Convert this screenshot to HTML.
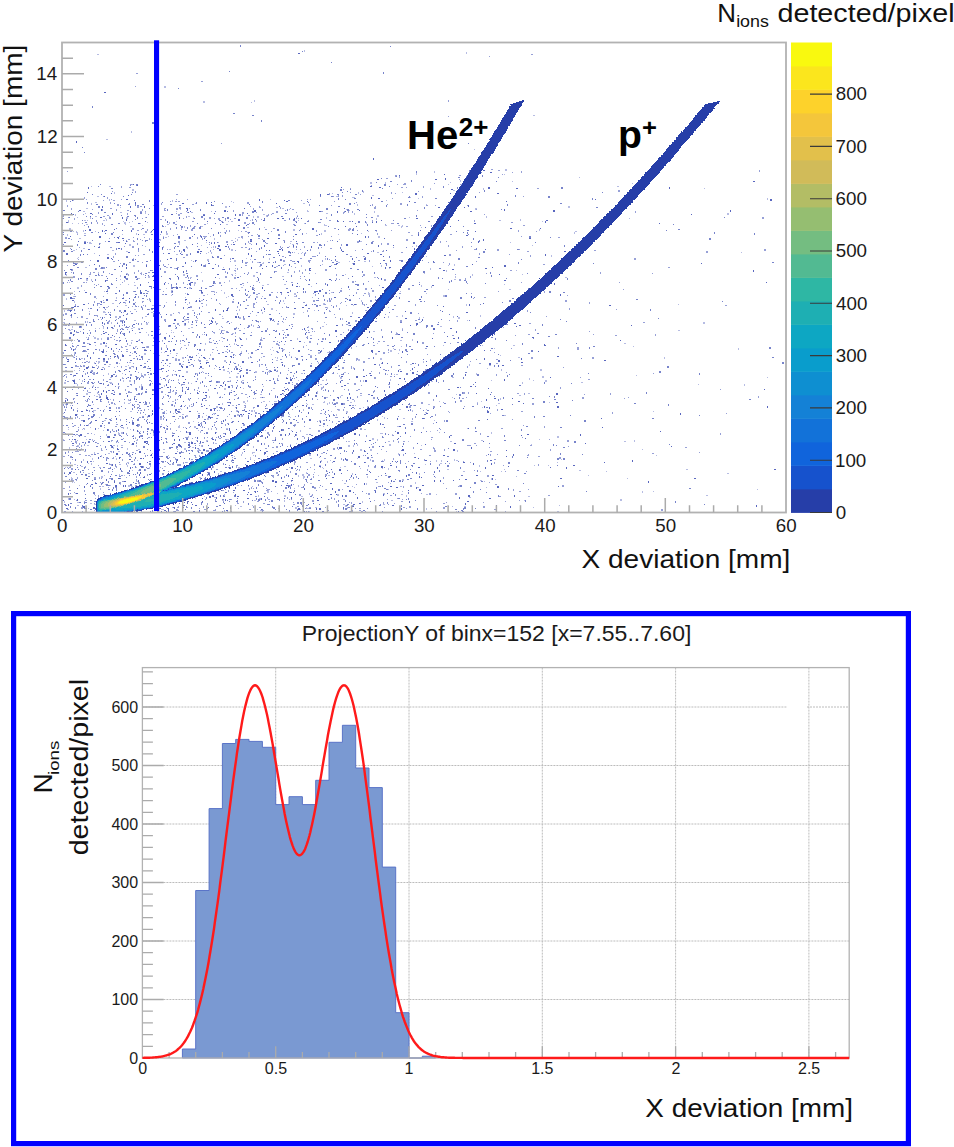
<!DOCTYPE html>
<html><head><meta charset="utf-8"><style>
html,body{margin:0;padding:0;background:#fff;}
body{width:954px;height:1147px;overflow:hidden;}
svg{display:block;}
</style></head><body>
<svg width="954" height="1147" viewBox="0 0 954 1147">
<rect width="954" height="1147" fill="#fff"/>
<g shape-rendering="crispEdges" fill="none"><path d="M251 102.5h1M474 149.5h1M504 174.5h1M579 177.5h1M512 181.5h1M450 182.5h1M632 183.5h1M132 184.5h1M448 184.5h1M91 186.5h1M704 188.5h1M402 192.5h1M332 193.5h1M354 197.5h1M410 197.5h1M418 198.5h1M270 199.5h1M66 200.5h1M386 200.5h1M66 201.5h1M231 201.5h1M233 202.5h1M426 204.5h1M153 205.5h1M120 207.5h1M87 208.5h1M289 209.5h1M346 209.5h1M307 210.5h1M349 210.5h1M176 211.5h1M211 211.5h1M277 211.5h1M85 213.5h1M77 217.5h1M145 217.5h1M296 217.5h1M409 217.5h1M105 218.5h1M629 218.5h1M87 220.5h1M250 220.5h1M298 220.5h1M123 221.5h1M132 221.5h1M176 221.5h1M228 221.5h1M542 221.5h1M129 222.5h1M147 222.5h1M154 222.5h1M72 223.5h1M78 223.5h1M140 223.5h1M207 223.5h1M304 223.5h1M142 225.5h1M165 226.5h1M195 226.5h1M264 227.5h1M421 227.5h1M181 228.5h1M238 230.5h1M73 231.5h1M95 231.5h1M368 231.5h1M376 231.5h1M306 233.5h1M361 233.5h1M122 234.5h1M338 234.5h1M163 236.5h1M168 236.5h1M210 236.5h1M235 238.5h1M151 239.5h1M339 239.5h1M127 241.5h1M327 241.5h1M206 242.5h1M218 242.5h1M510 242.5h1M91 243.5h1M100 243.5h1M290 243.5h1M297 244.5h1M201 245.5h1M532 245.5h1M145 246.5h1M289 246.5h1M412 246.5h1M211 247.5h1M76 249.5h1M213 249.5h1M248 249.5h1M62 251.5h1M208 252.5h1M294 252.5h1M302 252.5h1M319 252.5h1M741 252.5h1M94 253.5h1M206 253.5h1M298 253.5h1M301 253.5h1M426 256.5h1M78 257.5h1M77 258.5h1M133 258.5h1M246 258.5h1M250 259.5h1M191 260.5h1M349 261.5h1M205 264.5h1M322 264.5h1M331 265.5h1M448 265.5h1M372 266.5h1M223 267.5h1M100 268.5h1M235 268.5h1M389 268.5h1M516 270.5h1M235 271.5h1M141 272.5h1M201 272.5h1M235 273.5h1M315 273.5h1M424 273.5h1M345 274.5h1M522 274.5h1M235 275.5h1M89 276.5h1M219 278.5h1M120 279.5h1M69 282.5h1M134 282.5h1M120 284.5h1M128 284.5h1M504 284.5h1M243 285.5h1M311 286.5h1M253 287.5h1M166 288.5h1M448 289.5h1M84 290.5h1M221 290.5h1M74 291.5h1M104 291.5h1M400 291.5h1M368 292.5h1M107 293.5h1M185 293.5h1M426 293.5h1M207 294.5h1M171 295.5h1M250 295.5h1M73 296.5h1M228 296.5h1M262 296.5h1M185 297.5h1M226 297.5h1M312 297.5h1M96 298.5h1M156 301.5h1M166 302.5h1M189 303.5h1M284 303.5h1M324 303.5h1M187 304.5h1M678 304.5h1M346 305.5h1M353 305.5h1M78 306.5h1M370 306.5h1M99 307.5h1M142 307.5h1M388 307.5h1M187 308.5h1M135 309.5h1M276 310.5h1M314 310.5h1M89 311.5h1M105 312.5h1M123 312.5h1M303 312.5h1M256 315.5h1M222 316.5h1M423 317.5h1M142 318.5h1M158 318.5h1M467 320.5h1M158 321.5h1M188 321.5h1M117 322.5h1M148 322.5h1M188 322.5h1M231 322.5h1M283 322.5h1M324 322.5h1M326 324.5h1M69 325.5h1M348 325.5h1M95 328.5h1M99 328.5h1M244 328.5h1M219 329.5h1M171 330.5h1M146 332.5h1M171 332.5h1M173 332.5h1M396 332.5h1M135 333.5h1M166 333.5h1M214 333.5h1M202 334.5h1M395 334.5h1M93 336.5h1M86 337.5h1M155 339.5h1M74 340.5h1M138 340.5h1M262 340.5h1M71 341.5h1M162 341.5h1M222 341.5h1M304 342.5h1M180 343.5h1M201 343.5h1M377 343.5h1M95 345.5h1M158 345.5h1M279 345.5h1M306 345.5h1M443 345.5h1M482 345.5h1M136 346.5h1M230 346.5h1M356 346.5h1M401 346.5h1M633 346.5h1M154 347.5h1M166 347.5h1M216 347.5h1M272 347.5h1M323 348.5h1M393 348.5h1M494 348.5h1M270 349.5h1M284 349.5h1M273 350.5h1M118 351.5h1M161 352.5h1M164 352.5h1M212 352.5h1M88 353.5h1M132 353.5h1M170 353.5h1M198 353.5h1M248 353.5h1M398 353.5h1M234 354.5h1M271 354.5h1M235 355.5h1M500 355.5h1M72 356.5h1M291 356.5h1M261 357.5h1M275 357.5h1M295 357.5h1M198 359.5h1M233 362.5h1M242 362.5h1M62 363.5h1M98 363.5h1M119 363.5h1M62 364.5h1M262 364.5h1M128 365.5h1M131 366.5h1M240 366.5h1M114 367.5h1M214 368.5h1M487 368.5h1M74 370.5h1M150 370.5h1M158 370.5h1M90 371.5h1M202 371.5h1M401 371.5h1M93 372.5h1M122 373.5h1M237 373.5h1M337 373.5h1M387 374.5h1M394 374.5h1M636 375.5h1M122 377.5h1M143 377.5h1M767 377.5h1M74 379.5h1M79 379.5h1M298 380.5h1M491 380.5h1M533 380.5h1M195 381.5h1M229 381.5h1M109 382.5h1M160 383.5h1M191 383.5h1M698 384.5h1M74 386.5h1M263 386.5h1M85 387.5h1M97 387.5h1M98 387.5h1M105 387.5h1M89 388.5h1M243 388.5h1M135 389.5h1M194 390.5h1M114 391.5h1M88 392.5h1M256 393.5h1M165 394.5h1M456 394.5h1M94 395.5h1M247 397.5h1M452 397.5h1M169 398.5h1M255 398.5h1M110 399.5h1M269 401.5h1M274 401.5h1M324 401.5h1M439 401.5h1M481 401.5h1M130 402.5h1M377 402.5h1M477 402.5h1M549 402.5h1M128 403.5h1M129 403.5h1M245 403.5h1M306 403.5h1M65 404.5h1M93 404.5h1M307 404.5h1M70 405.5h1M355 405.5h1M496 405.5h1M363 407.5h1M482 407.5h1M77 408.5h1M180 408.5h1M207 408.5h1M253 408.5h1M104 409.5h1M181 409.5h1M426 409.5h1M140 410.5h1M166 410.5h1M219 410.5h1M331 411.5h1M653 411.5h1M93 412.5h1M63 413.5h1M166 413.5h1M173 413.5h1M177 413.5h1M213 413.5h1M289 414.5h1M119 415.5h1M151 415.5h1M206 415.5h1M382 416.5h1M99 417.5h1M290 417.5h1M111 418.5h1M231 418.5h1M161 419.5h1M434 420.5h1M193 421.5h1M161 424.5h1M294 424.5h1M166 425.5h1M323 426.5h1M90 427.5h1M185 427.5h1M98 428.5h1M68 429.5h1M82 429.5h1M130 429.5h1M211 429.5h1M103 430.5h1M198 430.5h1M265 430.5h1M291 430.5h1M140 431.5h1M180 431.5h1M430 431.5h1M439 432.5h1M153 433.5h1M382 433.5h1M70 434.5h1M94 434.5h1M392 434.5h1M75 435.5h1M288 435.5h1M135 437.5h1M86 439.5h1M227 439.5h1M539 439.5h1M75 440.5h1M111 441.5h1M408 441.5h1M167 442.5h1M296 443.5h1M290 444.5h1M338 444.5h1M421 445.5h1M77 446.5h1M81 448.5h1M185 448.5h1M642 449.5h1M102 450.5h1M256 450.5h1M454 450.5h1M111 452.5h1M152 453.5h1M414 453.5h1M168 455.5h1M253 455.5h1M656 455.5h1M90 456.5h1M115 456.5h1M234 456.5h1M196 457.5h1M319 457.5h1M334 458.5h1M357 458.5h1M561 459.5h1M137 460.5h1M254 460.5h1M330 460.5h1M382 460.5h1M93 461.5h1M187 462.5h1M219 462.5h1M557 462.5h1M88 463.5h1M251 464.5h1M425 464.5h1M534 465.5h1M548 465.5h1M65 467.5h1M136 467.5h1M289 467.5h1M322 467.5h1M340 467.5h1M114 468.5h1M323 468.5h1M360 468.5h1M382 468.5h1M504 469.5h1M132 470.5h1M138 470.5h1M140 470.5h1M480 471.5h1M501 471.5h1M606 471.5h1M314 472.5h1M286 474.5h1M104 475.5h1M124 475.5h1M318 475.5h1M588 475.5h1M516 476.5h1M140 477.5h1M435 477.5h1M303 478.5h1M627 478.5h1M254 479.5h1M263 479.5h1M495 479.5h1M342 480.5h1M73 481.5h1M484 481.5h1M72 482.5h1M74 482.5h1M148 482.5h1M390 483.5h1M105 484.5h1M120 484.5h1M139 484.5h1M79 485.5h1M110 485.5h1M136 485.5h1M248 486.5h1M252 486.5h1M352 486.5h1M319 487.5h1M354 487.5h1M486 487.5h1M294 488.5h1M388 489.5h1M757 489.5h1M402 491.5h1M653 491.5h1M75 493.5h1M277 493.5h1M436 494.5h1M95 495.5h1M204 496.5h1M74 499.5h1M329 499.5h1M284 500.5h1M284 501.5h1M235 505.5h1M252 505.5h1M559 505.5h1M452 506.5h1M70 507.5h1M172 507.5h1M315 507.5h1M316 507.5h1M533 507.5h1M88 508.5h1M238 508.5h1M278 508.5h1M163 509.5h1M257 509.5h1M182 511.5h1M230 511.5h1M303 511.5h1" stroke="rgb(182,188,227)" stroke-width="1"/>
<path d="M97 54.5h2M533 115.5h2M106 139.5h2M109 186.5h2M617 186.5h2M453 190.5h2M372 195.5h2M97 196.5h2M336 196.5h2M352 197.5h2M95 202.5h2M195 203.5h2M303 203.5h2M276 207.5h2M86 208.5h2M282 208.5h2M83 211.5h2M307 211.5h2M120 212.5h2M191 212.5h2M326 213.5h2M263 214.5h2M95 216.5h2M188 216.5h2M84 220.5h2M103 220.5h2M499 220.5h2M231 221.5h2M67 222.5h2M86 224.5h2M167 224.5h2M226 224.5h2M325 225.5h2M385 225.5h2M398 225.5h2M130 226.5h2M201 226.5h2M247 227.5h2M156 228.5h2M575 231.5h2M150 232.5h2M224 232.5h2M247 232.5h2M84 233.5h2M143 234.5h2M411 235.5h2M165 237.5h2M238 237.5h2M79 238.5h2M184 240.5h2M231 240.5h2M290 241.5h2M360 241.5h2M249 243.5h2M292 244.5h2M83 248.5h2M169 249.5h2M73 250.5h2M112 250.5h2M126 251.5h2M377 252.5h2M107 254.5h2M176 254.5h2M364 261.5h2M257 262.5h2M338 262.5h2M262 263.5h2M352 263.5h2M284 264.5h2M156 266.5h2M259 266.5h2M276 266.5h2M85 267.5h2M166 267.5h2M174 268.5h2M287 272.5h2M231 274.5h2M196 276.5h2M282 276.5h2M190 277.5h2M374 277.5h2M565 277.5h2M138 278.5h2M454 279.5h2M256 281.5h2M267 284.5h2M284 284.5h2M134 285.5h2M262 285.5h2M241 287.5h2M253 288.5h2M509 289.5h2M171 290.5h2M331 292.5h2M294 296.5h2M201 300.5h2M112 303.5h2M267 304.5h2M362 304.5h2M125 305.5h2M152 305.5h2M106 307.5h2M134 309.5h2M192 310.5h2M151 312.5h2M145 316.5h2M396 316.5h2M222 318.5h2M134 320.5h2M196 320.5h2M63 322.5h2M226 322.5h2M419 322.5h2M63 325.5h2M184 325.5h2M322 326.5h2M440 326.5h2M133 327.5h2M191 327.5h2M131 328.5h2M188 328.5h2M71 329.5h2M158 329.5h2M69 330.5h2M223 330.5h2M282 330.5h2M678 330.5h2M373 331.5h2M232 333.5h2M310 335.5h2M221 337.5h2M131 340.5h2M400 340.5h2M88 343.5h2M624 343.5h2M129 345.5h2M152 345.5h2M184 345.5h2M513 345.5h2M255 350.5h2M225 351.5h2M327 352.5h2M153 353.5h2M176 353.5h2M158 355.5h2M310 355.5h2M518 357.5h2M81 358.5h2M198 360.5h2M206 360.5h2M276 360.5h2M129 362.5h2M109 364.5h2M182 364.5h2M410 364.5h2M189 365.5h2M489 365.5h2M108 366.5h2M125 366.5h2M102 367.5h2M222 367.5h2M202 368.5h2M399 369.5h2M227 371.5h2M268 371.5h2M344 372.5h2M196 373.5h2M301 373.5h2M65 374.5h2M174 374.5h2M396 374.5h2M144 375.5h2M167 375.5h2M110 377.5h2M127 377.5h2M229 377.5h2M452 377.5h2M301 379.5h2M242 380.5h2M322 380.5h2M431 381.5h2M110 382.5h2M581 382.5h2M75 383.5h2M111 383.5h2M320 384.5h2M118 386.5h2M273 388.5h2M290 390.5h2M172 391.5h2M233 391.5h2M528 393.5h2M98 394.5h2M260 394.5h2M341 395.5h2M360 395.5h2M519 395.5h2M96 396.5h2M260 397.5h2M263 397.5h2M326 397.5h2M172 401.5h2M263 401.5h2M275 401.5h2M323 402.5h2M350 402.5h2M498 403.5h2M114 404.5h2M312 404.5h2M428 404.5h2M232 405.5h2M413 405.5h2M235 407.5h2M244 407.5h2M399 409.5h2M94 410.5h2M130 411.5h2M425 412.5h2M198 413.5h2M76 414.5h2M182 414.5h2M81 415.5h2M504 415.5h2M403 418.5h2M104 420.5h2M411 421.5h2M72 426.5h2M397 426.5h2M226 428.5h2M309 428.5h2M467 428.5h2M364 429.5h2M187 432.5h2M380 433.5h2M306 434.5h2M84 436.5h2M62 439.5h2M136 440.5h2M196 440.5h2M481 440.5h2M223 441.5h2M348 441.5h2M388 441.5h2M450 441.5h2M624 441.5h2M184 442.5h2M215 443.5h2M131 444.5h2M87 445.5h2M113 445.5h2M121 445.5h2M246 445.5h2M192 447.5h2M138 449.5h2M163 449.5h2M198 449.5h2M84 451.5h2M118 451.5h2M163 452.5h2M198 452.5h2M253 452.5h2M108 453.5h2M321 453.5h2M173 457.5h2M310 458.5h2M456 460.5h2M127 462.5h2M440 463.5h2M74 464.5h2M119 464.5h2M67 465.5h2M319 465.5h2M81 466.5h2M164 466.5h2M344 466.5h2M99 467.5h2M447 469.5h2M686 469.5h2M579 470.5h2M220 471.5h2M326 471.5h2M463 471.5h2M73 472.5h2M88 473.5h2M265 473.5h2M727 473.5h2M328 475.5h2M199 477.5h2M480 480.5h2M136 481.5h2M376 482.5h2M310 483.5h2M344 483.5h2M237 485.5h2M102 486.5h2M400 486.5h2M417 487.5h2M325 489.5h2M218 491.5h2M401 494.5h2M426 494.5h2M311 495.5h2M706 495.5h2M301 496.5h2M528 496.5h2M214 497.5h2M469 497.5h2M222 500.5h2M254 500.5h2M391 500.5h2M524 500.5h2M77 502.5h2M90 503.5h2M94 504.5h2M343 504.5h2M383 504.5h2M77 505.5h2M240 506.5h2M464 506.5h2M307 508.5h2M161 509.5h2M299 509.5h2M260 510.5h2M557 511.5h2" stroke="rgb(182,188,227)" stroke-width="1"/>
<path d="M304 51h1M466 53h1M254 101h1M131 132h1M434 172h1M416 174h1M460 181h1M385 183h1M430 189h1M483 189h1M363 192h1M114 193h1M358 193h1M767 199h1M73 200h1M109 200h1M172 201h1M91 204h1M357 205h1M180 209h1M374 212h1M145 213h1M354 214h1M75 215h1M297 216h1M109 217h1M253 217h1M486 217h1M90 218h1M193 218h1M326 218h1M376 219h1M106 220h1M520 220h1M68 221h1M169 223h1M366 223h1M125 224h1M324 225h1M402 226h1M184 227h1M401 227h1M539 230h1M83 231h1M76 232h1M77 233h1M574 233h1M136 234h1M321 234h1M67 235h1M242 238h1M214 239h1M160 240h1M237 240h1M179 244h1M416 246h1M163 247h1M213 247h1M187 248h1M181 252h1M211 253h1M551 256h1M269 259h1M325 259h1M263 263h1M454 265h1M301 266h1M381 266h1M430 269h1M446 271h1M98 273h1M66 275h1M158 275h1M472 275h1M120 276h1M157 277h1M455 277h1M157 278h1M91 280h1M124 281h1M202 281h1M229 281h1M194 285h1M421 286h1M431 287h1M214 292h1M224 293h1M116 298h1M123 298h1M66 299h1M283 301h1M361 301h1M74 302h1M125 303h1M206 305h1M466 305h1M157 307h1M327 308h1M239 310h1M261 310h1M64 311h1M179 313h1M262 313h1M352 313h1M379 315h1M402 316h1M480 316h1M388 317h1M453 317h1M419 318h1M342 319h1M87 322h1M196 322h1M258 322h1M76 323h1M111 323h1M122 323h1M175 326h1M253 326h1M72 327h1M308 327h1M103 328h1M402 329h1M148 335h1M154 337h1M153 338h1M239 338h1M261 338h1M101 339h1M209 339h1M246 339h1M297 339h1M412 340h1M131 343h1M142 343h1M205 344h1M234 344h1M188 345h1M166 346h1M76 347h1M135 347h1M161 348h1M180 349h1M738 349h1M399 350h1M241 352h1M74 353h1M155 353h1M71 355h1M210 355h1M289 355h1M73 357h1M248 358h1M277 358h1M664 358h1M68 360h1M188 360h1M430 360h1M89 362h1M423 362h1M94 363h1M318 363h1M469 365h1M133 367h1M187 367h1M353 368h1M501 370h1M269 372h1M229 373h1M108 374h1M141 374h1M476 374h1M278 376h1M339 376h1M205 378h1M529 379h1M178 380h1M326 380h1M390 380h1M82 381h1M123 381h1M230 381h1M363 381h1M242 383h1M522 383h1M77 385h1M131 385h1M141 385h1M744 385h1M93 386h1M164 386h1M92 387h1M139 387h1M208 390h1M317 392h1M97 393h1M142 393h1M317 393h1M283 394h1M99 396h1M156 397h1M209 397h1M220 397h1M340 397h1M500 399h1M128 400h1M247 401h1M354 401h1M124 403h1M329 403h1M201 404h1M222 404h1M327 404h1M66 406h1M189 406h1M303 410h1M93 411h1M254 411h1M412 411h1M214 414h1M336 415h1M147 417h1M202 417h1M281 417h1M384 418h1M377 420h1M221 423h1M88 425h1M179 426h1M123 428h1M127 428h1M423 428h1M84 429h1M208 429h1M211 429h1M165 431h1M300 431h1M200 432h1M118 433h1M172 433h1M491 433h1M106 435h1M188 437h1M63 440h1M92 440h1M228 440h1M377 440h1M634 441h1M191 442h1M282 444h1M357 445h1M531 445h1M117 446h1M136 446h1M353 446h1M253 447h1M69 448h1M113 448h1M127 449h1M457 451h1M94 453h1M242 453h1M252 453h1M398 454h1M241 455h1M101 456h1M250 458h1M92 459h1M116 459h1M83 460h1M370 460h1M384 460h1M454 460h1M321 461h1M436 461h1M441 461h1M327 462h1M91 464h1M109 464h1M127 466h1M150 466h1M479 466h1M213 467h1M320 467h1M149 468h1M388 469h1M332 472h1M306 473h1M218 474h1M352 474h1M419 474h1M119 475h1M298 476h1M367 477h1M71 478h1M72 479h1M491 479h1M415 483h1M366 484h1M181 486h1M290 486h1M298 486h1M459 486h1M100 489h1M127 490h1M268 491h1M642 492h1M309 494h1M224 495h1M258 496h1M406 496h1M98 497h1M195 498h1M68 499h1M64 502h1M362 502h1M306 508h1M347 508h1M426 509h1M206 511h1M309 512h1M456 512h1" stroke="rgb(182,188,227)" stroke-width="2"/>
<path d="M164 87h2M203 102h2M505 170h2M370 183h2M132 190h2M225 207h2M568 207h2M475 209h2M727 214h2M266 216h2M377 216h2M257 217h2M126 218h2M124 223h2M69 229h2M293 230h2M324 231h2M166 234h2M204 237h2M378 237h2M89 243h2M129 245h2M231 250h2M207 260h2M234 261h2M133 266h2M126 274h2M183 275h2M253 276h2M148 277h2M86 280h2M194 283h2M77 288h2M189 288h2M294 294h2M368 294h2M443 296h2M520 296h2M256 297h2M149 300h2M323 304h2M271 309h2M103 312h2M156 313h2M293 314h2M170 315h2M115 317h2M239 318h2M458 318h2M184 320h2M703 323h2M146 324h2M277 324h2M138 329h2M94 338h2M97 339h2M100 344h2M105 346h2M146 347h2M282 350h2M390 351h2M318 353h2M144 354h2M375 354h2M117 357h2M182 358h2M175 359h2M380 359h2M358 360h2M224 361h2M98 362h2M223 370h2M540 370h2M65 371h2M186 372h2M255 372h2M236 377h2M542 377h2M340 378h2M129 381h2M545 381h2M64 383h2M73 387h2M321 388h2M224 389h2M86 394h2M243 402h2M216 407h2M367 407h2M158 408h2M338 410h2M236 411h2M251 411h2M346 412h2M162 413h2M237 415h2M186 416h2M241 416h2M160 419h2M207 419h2M319 421h2M178 427h2M194 427h2M121 433h2M118 434h2M153 435h2M557 437h2M372 439h2M206 441h2M389 445h2M77 446h2M201 446h2M348 446h2M184 449h2M360 450h2M370 450h2M197 451h2M309 455h2M238 468h2M302 475h2M101 477h2M303 477h2M402 480h2M189 483h2M128 486h2M131 487h2M267 492h2M383 494h2M337 495h2M284 496h2M259 499h2M620 500h2M345 506h2M295 508h2" stroke="rgb(182,188,227)" stroke-width="2"/>
<path d="M489 56.5h1M135 86.5h1M448 116.5h1M221 143.5h1M67 171.5h1M512 172.5h1M502 174.5h1M459 179.5h1M434 183.5h1M397 184.5h1M403 184.5h1M371 185.5h1M406 187.5h1M350 188.5h1M343 189.5h1M112 191.5h1M418 191.5h1M350 192.5h1M479 192.5h1M395 193.5h1M360 194.5h1M523 196.5h1M392 198.5h1M86 199.5h1M111 199.5h1M121 199.5h1M176 199.5h1M187 199.5h1M307 199.5h1M310 199.5h1M103 200.5h1M301 200.5h1M170 201.5h1M334 201.5h1M356 202.5h1M387 204.5h1M331 205.5h1M435 205.5h1M250 206.5h1M259 206.5h1M375 206.5h1M165 208.5h1M189 208.5h1M290 208.5h1M92 209.5h1M476 209.5h1M285 210.5h1M417 210.5h1M145 211.5h1M186 211.5h1M187 212.5h1M256 212.5h1M296 212.5h1M176 213.5h1M83 214.5h1M148 214.5h1M271 214.5h1M484 214.5h1M68 217.5h1M110 218.5h1M142 218.5h1M183 218.5h1M214 218.5h1M296 218.5h1M298 218.5h1M417 218.5h1M230 219.5h1M261 219.5h1M223 222.5h1M82 223.5h1M249 223.5h1M391 223.5h1M254 224.5h1M385 224.5h1M84 225.5h1M104 225.5h1M420 225.5h1M406 226.5h1M407 226.5h1M88 227.5h1M224 228.5h1M141 229.5h1M181 229.5h1M357 230.5h1M391 230.5h1M104 231.5h1M241 231.5h1M271 231.5h1M536 231.5h1M220 232.5h1M208 233.5h1M77 234.5h1M160 234.5h1M177 234.5h1M257 234.5h1M173 235.5h1M119 236.5h1M248 236.5h1M331 236.5h1M521 236.5h1M133 237.5h1M144 237.5h1M109 238.5h1M71 239.5h1M140 239.5h1M159 239.5h1M262 239.5h1M133 240.5h1M142 240.5h1M330 240.5h1M105 241.5h1M158 241.5h1M235 241.5h1M446 241.5h1M87 242.5h1M211 242.5h1M317 242.5h1M209 244.5h1M231 244.5h1M251 244.5h1M142 245.5h1M99 246.5h1M124 246.5h1M155 246.5h1M218 246.5h1M304 246.5h1M471 246.5h1M79 247.5h1M132 247.5h1M207 247.5h1M282 247.5h1M293 247.5h1M304 247.5h1M321 247.5h1M393 247.5h1M70 248.5h1M251 248.5h1M167 249.5h1M296 249.5h1M300 249.5h1M235 250.5h1M355 250.5h1M456 250.5h1M174 251.5h1M256 251.5h1M371 251.5h1M290 253.5h1M304 253.5h1M319 253.5h1M143 254.5h1M144 254.5h1M509 254.5h1M135 255.5h1M138 255.5h1M224 255.5h1M158 257.5h1M78 259.5h1M329 259.5h1M90 260.5h1M150 260.5h1M310 260.5h1M193 261.5h1M230 261.5h1M476 261.5h1M142 262.5h1M247 262.5h1M309 262.5h1M428 262.5h1M443 262.5h1M77 263.5h1M120 263.5h1M168 264.5h1M67 265.5h1M89 265.5h1M235 265.5h1M283 265.5h1M291 266.5h1M295 267.5h1M71 272.5h1M109 273.5h1M140 273.5h1M309 273.5h1M486 273.5h1M652 273.5h1M81 274.5h1M143 274.5h1M455 274.5h1M232 275.5h1M240 276.5h1M300 276.5h1M86 278.5h1M190 278.5h1M300 278.5h1M348 278.5h1M178 279.5h1M305 279.5h1M339 279.5h1M72 281.5h1M355 281.5h1M368 281.5h1M67 282.5h1M86 282.5h1M122 282.5h1M224 282.5h1M247 282.5h1M259 282.5h1M291 282.5h1M292 282.5h1M419 282.5h1M521 282.5h1M619 282.5h1M168 283.5h1M467 283.5h1M94 284.5h1M98 284.5h1M187 284.5h1M213 285.5h1M379 285.5h1M209 286.5h1M299 286.5h1M116 287.5h1M236 288.5h1M341 288.5h1M349 289.5h1M408 289.5h1M623 289.5h1M239 290.5h1M163 291.5h1M213 291.5h1M498 291.5h1M172 292.5h1M216 292.5h1M277 292.5h1M187 293.5h1M313 293.5h1M329 293.5h1M471 293.5h1M74 294.5h1M349 295.5h1M363 295.5h1M567 295.5h1M103 296.5h1M249 296.5h1M199 298.5h1M211 298.5h1M359 298.5h1M473 298.5h1M147 299.5h1M233 299.5h1M103 300.5h1M185 300.5h1M100 301.5h1M200 301.5h1M266 301.5h1M135 302.5h1M142 302.5h1M189 302.5h1M256 302.5h1M341 302.5h1M219 303.5h1M340 303.5h1M220 304.5h1M306 304.5h1M366 304.5h1M143 305.5h1M331 305.5h1M108 306.5h1M117 306.5h1M132 306.5h1M138 306.5h1M202 306.5h1M163 307.5h1M254 307.5h1M263 307.5h1M282 307.5h1M287 307.5h1M88 308.5h1M104 308.5h1M149 309.5h1M616 309.5h1M236 310.5h1M130 311.5h1M136 311.5h1M153 311.5h1M264 311.5h1M330 311.5h1M110 312.5h1M178 312.5h1M148 313.5h1M173 313.5h1M250 313.5h1M418 313.5h1M160 314.5h1M197 314.5h1M334 314.5h1M385 314.5h1M281 316.5h1M546 316.5h1M77 317.5h1M100 317.5h1M104 317.5h1M142 317.5h1M212 317.5h1M335 317.5h1M197 318.5h1M269 318.5h1M101 319.5h1M116 319.5h1M285 319.5h1M195 320.5h1M209 320.5h1M449 320.5h1M260 321.5h1M274 321.5h1M317 321.5h1M90 322.5h1M64 323.5h1M72 324.5h1M216 324.5h1M102 325.5h1M122 325.5h1M179 325.5h1M103 326.5h1M129 326.5h1M159 326.5h1M170 326.5h1M175 326.5h1M221 326.5h1M222 327.5h1M503 327.5h1M238 328.5h1M311 328.5h1M127 329.5h1M287 329.5h1M89 330.5h1M305 330.5h1M80 331.5h1M117 331.5h1M312 331.5h1M314 331.5h1M589 331.5h1M76 332.5h1M251 332.5h1M284 332.5h1M343 332.5h1M433 333.5h1M74 334.5h1M101 334.5h1M204 334.5h1M593 334.5h1M89 335.5h1M183 335.5h1M285 335.5h1M515 335.5h1M235 336.5h1M306 337.5h1M125 338.5h1M186 338.5h1M114 339.5h1M162 340.5h1M213 340.5h1M219 340.5h1M119 341.5h1M235 341.5h1M277 341.5h1M260 342.5h1M72 343.5h1M87 343.5h1M217 343.5h1M450 343.5h1M229 344.5h1M236 344.5h1M284 344.5h1M85 346.5h1M121 346.5h1M224 346.5h1M406 346.5h1M181 347.5h1M240 347.5h1M75 348.5h1M511 348.5h1M227 349.5h1M308 349.5h1M82 351.5h1M106 351.5h1M276 351.5h1M289 352.5h1M388 352.5h1M494 352.5h1M115 354.5h1M427 354.5h1M176 355.5h1M187 355.5h1M315 355.5h1M76 356.5h1M250 356.5h1M282 356.5h1M199 357.5h1M286 357.5h1M443 357.5h1M110 358.5h1M209 358.5h1M194 360.5h1M356 360.5h1M96 361.5h1M183 361.5h1M470 361.5h1M82 362.5h1M88 362.5h1M133 363.5h1M311 363.5h1M381 363.5h1M65 364.5h1M259 364.5h1M299 364.5h1M96 365.5h1M167 365.5h1M92 366.5h1M117 366.5h1M169 366.5h1M216 366.5h1M311 366.5h1M103 367.5h1M266 367.5h1M563 367.5h1M79 368.5h1M288 368.5h1M79 370.5h1M173 370.5h1M277 370.5h1M288 370.5h1M410 370.5h1M162 371.5h1M175 371.5h1M371 371.5h1M138 372.5h1M199 372.5h1M203 372.5h1M506 372.5h1M77 373.5h1M238 373.5h1M348 373.5h1M653 373.5h1M148 374.5h1M287 374.5h1M103 375.5h1M208 375.5h1M240 375.5h1M63 376.5h1M111 376.5h1M439 376.5h1M138 377.5h1M140 377.5h1M149 377.5h1M160 377.5h1M286 377.5h1M580 377.5h1M294 378.5h1M161 379.5h1M169 379.5h1M266 380.5h1M278 380.5h1M151 381.5h1M224 381.5h1M227 381.5h1M230 381.5h1M94 382.5h1M178 382.5h1M292 382.5h1M438 382.5h1M74 383.5h1M99 383.5h1M110 383.5h1M152 383.5h1M336 383.5h1M292 384.5h1M389 384.5h1M150 385.5h1M216 385.5h1M361 385.5h1M170 387.5h1M284 387.5h1M78 388.5h1M135 388.5h1M344 389.5h1M720 389.5h1M83 390.5h1M125 390.5h1M197 390.5h1M231 390.5h1M271 390.5h1M323 390.5h1M129 392.5h1M253 392.5h1M136 394.5h1M137 394.5h1M153 394.5h1M175 394.5h1M584 394.5h1M76 395.5h1M275 395.5h1M284 395.5h1M330 395.5h1M135 396.5h1M178 396.5h1M222 397.5h1M325 397.5h1M357 397.5h1M466 397.5h1M628 397.5h1M198 398.5h1M253 398.5h1M624 398.5h1M89 399.5h1M177 399.5h1M317 399.5h1M85 400.5h1M129 400.5h1M189 400.5h1M101 401.5h1M261 402.5h1M443 402.5h1M134 404.5h1M191 404.5h1M185 405.5h1M209 405.5h1M265 406.5h1M297 406.5h1M335 406.5h1M464 406.5h1M213 408.5h1M222 408.5h1M354 408.5h1M391 408.5h1M420 408.5h1M86 409.5h1M148 409.5h1M292 409.5h1M217 410.5h1M321 410.5h1M410 410.5h1M116 411.5h1M197 411.5h1M448 411.5h1M180 412.5h1M449 412.5h1M324 413.5h1M490 413.5h1M726 413.5h1M145 414.5h1M328 414.5h1M172 416.5h1M182 416.5h1M227 416.5h1M235 416.5h1M295 416.5h1M164 417.5h1M185 417.5h1M337 417.5h1M79 418.5h1M138 418.5h1M178 418.5h1M197 418.5h1M387 418.5h1M88 419.5h1M175 419.5h1M348 419.5h1M512 419.5h1M96 420.5h1M103 421.5h1M126 421.5h1M317 421.5h1M91 422.5h1M116 422.5h1M156 422.5h1M198 422.5h1M201 422.5h1M282 422.5h1M89 423.5h1M170 423.5h1M243 423.5h1M336 423.5h1M433 423.5h1M63 425.5h1M74 425.5h1M75 425.5h1M104 425.5h1M327 425.5h1M523 425.5h1M116 426.5h1M120 426.5h1M200 426.5h1M294 426.5h1M304 426.5h1M68 427.5h1M78 427.5h1M104 427.5h1M160 427.5h1M183 427.5h1M189 427.5h1M83 428.5h1M289 428.5h1M440 429.5h1M78 430.5h1M153 430.5h1M176 430.5h1M263 430.5h1M437 430.5h1M521 430.5h1M156 431.5h1M158 432.5h1M216 432.5h1M91 433.5h1M150 433.5h1M78 435.5h1M359 435.5h1M72 436.5h1M85 436.5h1M294 436.5h1M410 436.5h1M114 437.5h1M187 437.5h1M195 437.5h1M207 437.5h1M212 437.5h1M216 437.5h1M522 437.5h1M100 438.5h1M123 438.5h1M135 438.5h1M192 438.5h1M137 439.5h1M431 439.5h1M549 439.5h1M77 440.5h1M94 440.5h1M197 440.5h1M226 440.5h1M71 441.5h1M301 441.5h1M346 441.5h1M96 442.5h1M118 442.5h1M129 442.5h1M136 442.5h1M273 442.5h1M73 443.5h1M76 443.5h1M281 443.5h1M248 444.5h1M371 444.5h1M100 445.5h1M199 445.5h1M476 445.5h1M287 446.5h1M568 446.5h1M489 447.5h1M176 448.5h1M197 448.5h1M147 449.5h1M177 449.5h1M338 449.5h1M381 449.5h1M77 450.5h1M101 450.5h1M177 451.5h1M386 451.5h1M157 452.5h1M699 452.5h1M377 453.5h1M129 454.5h1M497 454.5h1M62 455.5h1M199 455.5h1M363 455.5h1M486 455.5h1M267 456.5h1M113 457.5h1M131 457.5h1M169 457.5h1M232 457.5h1M245 458.5h1M72 459.5h1M232 459.5h1M250 459.5h1M261 459.5h1M192 461.5h1M383 461.5h1M408 461.5h1M430 461.5h1M332 462.5h1M470 462.5h1M128 463.5h1M134 463.5h1M405 463.5h1M449 463.5h1M77 465.5h1M98 465.5h1M229 465.5h1M503 465.5h1M67 467.5h1M69 467.5h1M116 467.5h1M157 467.5h1M160 467.5h1M228 467.5h1M310 467.5h1M158 468.5h1M162 468.5h1M88 469.5h1M314 469.5h1M296 470.5h1M474 470.5h1M112 471.5h1M122 471.5h1M168 471.5h1M399 471.5h1M505 471.5h1M526 471.5h1M64 472.5h1M83 472.5h1M332 472.5h1M151 473.5h1M76 474.5h1M313 474.5h1M326 474.5h1M433 474.5h1M154 475.5h1M378 476.5h1M126 477.5h1M155 477.5h1M273 477.5h1M350 477.5h1M101 478.5h1M205 478.5h1M291 481.5h1M65 482.5h1M95 482.5h1M100 482.5h1M307 482.5h1M388 482.5h1M489 482.5h1M443 483.5h1M86 484.5h1M293 484.5h1M356 484.5h1M90 485.5h1M241 485.5h1M263 486.5h1M322 486.5h1M458 486.5h1M108 487.5h1M115 487.5h1M228 487.5h1M253 488.5h1M266 488.5h1M446 488.5h1M267 489.5h1M326 489.5h1M342 489.5h1M528 489.5h1M316 490.5h1M271 491.5h1M74 492.5h1M103 492.5h1M233 492.5h1M366 493.5h1M421 493.5h1M94 494.5h1M216 494.5h1M355 494.5h1M313 497.5h1M95 498.5h1M205 499.5h1M231 499.5h1M289 499.5h1M291 499.5h1M387 499.5h1M402 499.5h1M76 500.5h1M374 500.5h1M519 500.5h1M269 501.5h1M505 501.5h1M293 502.5h1M304 502.5h1M349 502.5h1M446 502.5h1M483 502.5h1M94 503.5h1M238 503.5h1M394 503.5h1M388 504.5h1M178 506.5h1M448 506.5h1M325 507.5h1M384 507.5h1M199 508.5h1M355 508.5h1M406 508.5h1M431 508.5h1M343 509.5h1M94 510.5h1M328 510.5h1M72 511.5h1M227 511.5h1M231 511.5h1M365 511.5h1" stroke="rgb(151,160,215)" stroke-width="1"/>
<path d="M531 54.5h2M136 73.5h2M201 81.5h2M491 169.5h2M498 170.5h2M459 175.5h2M386 178.5h2M130 184.5h2M460 184.5h2M129 187.5h2M401 187.5h2M537 188.5h2M176 194.5h2M103 196.5h2M332 196.5h2M113 200.5h2M175 201.5h2M178 201.5h2M192 204.5h2M426 205.5h2M467 205.5h2M137 206.5h2M140 206.5h2M137 207.5h2M259 207.5h2M110 208.5h2M292 209.5h2M127 210.5h2M164 210.5h2M321 211.5h2M180 213.5h2M272 213.5h2M107 215.5h2M248 215.5h2M103 216.5h2M162 216.5h2M431 216.5h2M234 218.5h2M160 219.5h2M284 220.5h2M329 220.5h2M192 221.5h2M221 221.5h2M295 221.5h2M349 221.5h2M319 222.5h2M511 222.5h2M173 223.5h2M392 223.5h2M175 224.5h2M204 224.5h2M293 224.5h2M523 225.5h2M273 228.5h2M334 228.5h2M265 229.5h2M137 230.5h2M157 230.5h2M185 230.5h2M245 231.5h2M408 232.5h2M450 234.5h2M84 235.5h2M251 235.5h2M316 235.5h2M203 236.5h2M205 236.5h2M558 237.5h2M258 238.5h2M128 239.5h2M283 240.5h2M133 241.5h2M372 241.5h2M313 242.5h2M266 243.5h2M154 246.5h2M110 247.5h2M241 247.5h2M245 247.5h2M330 248.5h2M474 249.5h2M518 249.5h2M594 250.5h2M382 251.5h2M527 251.5h2M401 252.5h2M282 256.5h2M312 256.5h2M314 256.5h2M350 256.5h2M363 256.5h2M183 257.5h2M300 258.5h2M290 260.5h2M358 260.5h2M399 260.5h2M113 261.5h2M137 261.5h2M292 261.5h2M336 261.5h2M81 262.5h2M129 262.5h2M294 263.5h2M543 264.5h2M245 265.5h2M177 267.5h2M668 267.5h2M151 270.5h2M234 270.5h2M510 270.5h2M275 271.5h2M93 272.5h2M148 272.5h2M256 272.5h2M89 274.5h2M98 275.5h2M101 275.5h2M68 277.5h2M185 277.5h2M125 278.5h2M83 282.5h2M214 283.5h2M242 283.5h2M154 286.5h2M174 287.5h2M179 287.5h2M231 288.5h2M159 289.5h2M133 291.5h2M147 291.5h2M211 291.5h2M271 292.5h2M201 293.5h2M258 293.5h2M364 293.5h2M399 293.5h2M162 294.5h2M256 294.5h2M203 295.5h2M74 296.5h2M248 297.5h2M276 297.5h2M484 297.5h2M73 298.5h2M298 298.5h2M349 299.5h2M115 300.5h2M125 300.5h2M142 301.5h2M195 301.5h2M103 302.5h2M303 302.5h2M98 303.5h2M201 303.5h2M324 304.5h2M355 304.5h2M159 305.5h2M247 305.5h2M319 305.5h2M394 305.5h2M725 305.5h2M253 307.5h2M325 307.5h2M67 310.5h2M365 310.5h2M155 312.5h2M208 312.5h2M257 312.5h2M154 313.5h2M105 314.5h2M126 314.5h2M219 314.5h2M70 315.5h2M95 315.5h2M86 318.5h2M186 319.5h2M121 320.5h2M122 320.5h2M255 320.5h2M415 320.5h2M643 322.5h2M107 323.5h2M216 323.5h2M529 323.5h2M191 324.5h2M291 324.5h2M346 324.5h2M168 325.5h2M248 325.5h2M125 327.5h2M257 327.5h2M112 328.5h2M121 328.5h2M175 328.5h2M68 329.5h2M221 330.5h2M239 330.5h2M213 332.5h2M308 332.5h2M62 333.5h2M122 333.5h2M222 333.5h2M231 334.5h2M340 334.5h2M528 334.5h2M452 335.5h2M615 335.5h2M107 337.5h2M110 337.5h2M285 337.5h2M263 338.5h2M157 339.5h2M116 340.5h2M119 340.5h2M154 340.5h2M153 341.5h2M273 341.5h2M378 341.5h2M383 341.5h2M210 342.5h2M363 344.5h2M373 345.5h2M387 345.5h2M125 346.5h2M121 347.5h2M425 348.5h2M74 349.5h2M126 349.5h2M212 349.5h2M394 349.5h2M577 349.5h2M84 350.5h2M310 350.5h2M85 351.5h2M126 351.5h2M231 352.5h2M261 353.5h2M308 354.5h2M129 355.5h2M263 356.5h2M172 357.5h2M250 357.5h2M133 358.5h2M368 358.5h2M148 359.5h2M280 359.5h2M496 359.5h2M86 361.5h2M144 363.5h2M169 363.5h2M479 363.5h2M496 363.5h2M261 364.5h2M154 365.5h2M521 365.5h2M77 366.5h2M132 366.5h2M147 368.5h2M159 369.5h2M266 369.5h2M274 369.5h2M383 369.5h2M269 370.5h2M262 371.5h2M276 371.5h2M92 373.5h2M205 373.5h2M332 373.5h2M144 374.5h2M156 374.5h2M166 376.5h2M390 376.5h2M122 378.5h2M89 379.5h2M109 379.5h2M588 379.5h2M67 381.5h2M347 383.5h2M183 384.5h2M388 384.5h2M231 385.5h2M127 386.5h2M358 389.5h2M356 390.5h2M89 392.5h2M130 392.5h2M229 392.5h2M241 393.5h2M360 393.5h2M517 393.5h2M245 394.5h2M180 395.5h2M234 395.5h2M65 398.5h2M73 398.5h2M237 398.5h2M462 398.5h2M188 399.5h2M352 399.5h2M205 400.5h2M347 400.5h2M86 401.5h2M135 401.5h2M137 404.5h2M144 404.5h2M162 404.5h2M244 405.5h2M352 405.5h2M191 406.5h2M253 407.5h2M97 408.5h2M266 408.5h2M359 408.5h2M161 409.5h2M178 409.5h2M337 409.5h2M521 411.5h2M320 413.5h2M142 416.5h2M179 416.5h2M288 416.5h2M65 417.5h2M139 417.5h2M335 417.5h2M216 418.5h2M81 420.5h2M323 420.5h2M214 422.5h2M297 422.5h2M151 423.5h2M200 423.5h2M227 423.5h2M116 424.5h2M319 425.5h2M115 426.5h2M137 426.5h2M121 427.5h2M501 428.5h2M226 429.5h2M113 431.5h2M137 431.5h2M87 433.5h2M172 433.5h2M223 433.5h2M76 434.5h2M268 434.5h2M392 435.5h2M302 436.5h2M148 437.5h2M185 437.5h2M382 437.5h2M431 437.5h2M219 438.5h2M225 439.5h2M63 440.5h2M111 440.5h2M272 440.5h2M274 440.5h2M403 441.5h2M97 443.5h2M199 443.5h2M474 443.5h2M72 445.5h2M467 445.5h2M469 445.5h2M530 445.5h2M76 446.5h2M189 446.5h2M121 447.5h2M272 447.5h2M685 447.5h2M265 448.5h2M420 449.5h2M136 450.5h2M199 450.5h2M75 451.5h2M77 451.5h2M110 451.5h2M210 451.5h2M276 451.5h2M490 451.5h2M132 452.5h2M182 452.5h2M97 453.5h2M652 453.5h2M79 454.5h2M91 454.5h2M85 455.5h2M88 455.5h2M194 455.5h2M429 455.5h2M527 455.5h2M63 456.5h2M159 456.5h2M199 456.5h2M538 456.5h2M371 457.5h2M112 458.5h2M324 458.5h2M191 459.5h2M494 459.5h2M162 462.5h2M185 462.5h2M306 462.5h2M109 464.5h2M133 464.5h2M169 464.5h2M236 465.5h2M115 466.5h2M93 467.5h2M216 469.5h2M286 469.5h2M208 472.5h2M220 474.5h2M121 475.5h2M277 475.5h2M325 475.5h2M385 475.5h2M109 478.5h2M150 479.5h2M204 479.5h2M72 480.5h2M122 481.5h2M495 484.5h2M99 486.5h2M378 486.5h2M301 487.5h2M63 488.5h2M268 489.5h2M69 490.5h2M222 490.5h2M266 490.5h2M519 491.5h2M264 493.5h2M103 494.5h2M207 494.5h2M390 495.5h2M548 495.5h2M255 496.5h2M499 496.5h2M397 498.5h2M268 499.5h2M343 499.5h2M85 500.5h2M90 500.5h2M257 501.5h2M401 501.5h2M263 503.5h2M443 503.5h2M293 504.5h2M352 505.5h2M297 506.5h2M177 507.5h2M186 507.5h2M259 507.5h2M403 507.5h2M359 508.5h2M67 509.5h2M204 509.5h2M249 509.5h2M494 509.5h2M177 510.5h2M213 510.5h2M262 510.5h2M359 510.5h2" stroke="rgb(151,160,215)" stroke-width="1"/>
<path d="M448 101h1M759 171h1M521 172h1M399 177h1M121 187h1M423 187h1M135 192h1M391 193h1M329 194h1M338 196h1M342 196h1M422 197h1M84 198h1M107 198h1M110 203h1M161 204h1M309 205h1M372 205h1M67 206h1M280 208h1M71 209h1M164 209h1M253 209h1M102 210h1M116 210h1M142 210h1M262 210h1M233 211h1M344 212h1M348 212h1M352 212h1M635 212h1M98 213h1M343 213h1M127 214h1M242 215h1M268 215h1M63 216h1M267 216h1M186 217h1M74 219h1M204 219h1M165 220h1M225 220h1M252 220h1M96 221h1M256 221h1M308 221h1M372 221h1M474 221h1M97 223h1M102 224h1M62 225h1M190 226h1M431 226h1M170 229h1M147 230h1M226 231h1M229 231h1M316 231h1M518 231h1M166 232h1M377 234h1M220 236h1M197 238h1M149 239h1M202 239h1M126 241h1M248 242h1M440 242h1M137 244h1M381 244h1M341 245h1M448 246h1M186 247h1M215 247h1M280 247h1M462 247h1M229 249h1M310 250h1M138 251h1M210 251h1M383 251h1M305 253h1M115 254h1M479 254h1M530 256h1M113 257h1M230 259h1M160 261h1M322 261h1M369 261h1M252 262h1M76 264h1M449 264h1M146 265h1M163 265h1M237 269h1M288 270h1M305 270h1M138 271h1M299 271h1M225 272h1M294 272h1M90 273h1M134 273h1M248 273h1M302 273h1M600 273h1M141 274h1M128 275h1M336 275h1M470 277h1M188 278h1M154 279h1M336 279h1M465 279h1M158 282h1M183 283h1M190 283h1M81 286h1M171 287h1M176 287h1M137 288h1M151 288h1M107 290h1M544 292h1M356 293h1M281 294h1M247 295h1M315 295h1M296 296h1M369 296h1M94 297h1M95 297h1M138 297h1M276 297h1M375 297h1M285 298h1M149 299h1M331 299h1M375 300h1M327 301h1M94 302h1M154 302h1M589 303h1M75 305h1M97 305h1M175 305h1M364 305h1M415 305h1M135 306h1M145 306h1M253 306h1M336 306h1M237 307h1M286 307h1M228 308h1M68 309h1M339 309h1M569 309h1M307 311h1M329 311h1M527 311h1M89 314h1M153 314h1M237 314h1M63 315h1M97 316h1M154 316h1M71 317h1M283 319h1M109 321h1M457 321h1M85 322h1M108 322h1M215 322h1M141 324h1M251 325h1M342 325h1M114 326h1M81 327h1M236 328h1M320 328h1M267 329h1M312 329h1M117 330h1M348 330h1M381 330h1M402 330h1M535 330h1M76 332h1M235 333h1M160 334h1M655 335h1M196 337h1M307 337h1M88 338h1M165 339h1M139 340h1M156 340h1M180 341h1M209 342h1M127 344h1M317 344h1M278 345h1M72 346h1M157 346h1M261 347h1M303 347h1M351 348h1M558 348h1M99 350h1M204 350h1M388 350h1M113 351h1M329 352h1M74 355h1M240 355h1M192 357h1M66 358h1M342 358h1M84 359h1M108 359h1M120 360h1M406 362h1M238 365h1M379 365h1M80 366h1M259 366h1M338 366h1M98 367h1M121 367h1M351 367h1M391 367h1M467 367h1M236 368h1M351 368h1M104 369h1M312 371h1M94 373h1M379 373h1M85 374h1M267 374h1M172 375h1M496 375h1M73 376h1M116 376h1M293 376h1M66 377h1M143 377h1M255 377h1M197 379h1M277 379h1M290 379h1M103 380h1M165 380h1M168 381h1M211 381h1M360 381h1M241 382h1M134 383h1M188 383h1M200 383h1M318 383h1M108 385h1M149 385h1M181 385h1M428 385h1M204 386h1M237 386h1M232 387h1M323 387h1M198 388h1M560 388h1M182 389h1M321 389h1M125 390h1M348 390h1M87 391h1M333 391h1M374 391h1M170 392h1M185 392h1M261 392h1M373 392h1M217 393h1M468 393h1M524 394h1M610 394h1M134 397h1M163 397h1M170 397h1M206 397h1M357 397h1M758 397h1M188 399h1M113 400h1M157 400h1M175 400h1M433 400h1M74 402h1M108 402h1M149 403h1M332 403h1M477 404h1M63 405h1M171 405h1M266 405h1M139 406h1M174 406h1M245 407h1M116 408h1M137 408h1M311 408h1M65 410h1M144 410h1M343 410h1M497 410h1M89 411h1M164 412h1M175 412h1M140 413h1M612 413h1M101 415h1M435 415h1M77 417h1M348 417h1M415 417h1M75 418h1M163 419h1M412 419h1M120 420h1M132 421h1M444 421h1M332 422h1M214 425h1M225 425h1M295 425h1M141 427h1M202 427h1M544 427h1M166 429h1M170 429h1M216 429h1M78 430h1M112 430h1M242 430h1M159 432h1M65 434h1M126 434h1M480 434h1M720 434h1M296 435h1M140 436h1M366 436h1M204 438h1M275 438h1M304 438h1M343 438h1M166 439h1M282 439h1M393 441h1M116 442h1M398 442h1M213 443h1M79 444h1M189 444h1M264 444h1M84 445h1M81 446h1M179 446h1M202 446h1M413 448h1M433 448h1M101 449h1M434 449h1M444 450h1M550 450h1M206 451h1M68 452h1M403 455h1M490 455h1M528 455h1M145 456h1M255 456h1M195 457h1M175 459h1M341 459h1M393 459h1M122 460h1M134 460h1M424 460h1M231 461h1M463 462h1M70 463h1M183 463h1M494 463h1M126 464h1M223 464h1M294 464h1M111 465h1M314 465h1M439 465h1M538 465h1M368 466h1M70 467h1M85 467h1M236 467h1M300 467h1M145 470h1M299 470h1M367 470h1M159 471h1M108 472h1M290 472h1M147 475h1M207 475h1M325 475h1M136 477h1M284 477h1M313 477h1M356 477h1M77 478h1M99 478h1M443 478h1M200 479h1M204 479h1M311 479h1M71 480h1M76 480h1M136 480h1M261 482h1M304 485h1M69 487h1M403 487h1M251 488h1M249 489h1M513 490h1M84 491h1M228 491h1M283 491h1M289 492h1M312 495h1M98 496h1M267 498h1M287 498h1M331 498h1M334 499h1M215 500h1M84 502h1M223 502h1M243 502h1M336 502h1M237 503h1M351 503h1M383 503h1M207 504h1M284 506h1M203 507h1M253 507h1M215 510h1M224 511h1M352 511h1M82 512h1M141 512h1M316 512h1M505 512h1" stroke="rgb(151,160,215)" stroke-width="2"/>
<path d="M395 176h2M404 184h2M618 191h2M247 203h2M400 204h2M117 205h2M179 208h2M374 208h2M176 209h2M140 212h2M276 212h2M242 213h2M178 215h2M109 218h2M209 218h2M762 218h2M218 219h2M244 223h2M154 227h2M193 228h2M132 229h2M349 229h2M191 230h2M348 230h2M145 232h2M241 237h2M65 238h2M406 240h2M84 242h2M178 242h2M226 242h2M357 242h2M387 244h2M132 247h2M497 250h2M764 250h2M706 252h2M186 255h2M449 255h2M634 259h2M283 261h2M308 261h2M245 263h2M203 266h2M103 268h2M71 270h2M325 270h2M155 272h2M164 272h2M363 275h2M196 276h2M73 277h2M225 277h2M234 278h2M384 280h2M459 280h2M352 282h2M219 283h2M365 289h2M408 289h2M340 291h2M372 291h2M171 292h2M63 295h2M313 301h2M329 301h2M370 301h2M565 301h2M232 302h2M253 304h2M190 307h2M119 311h2M65 314h2M187 314h2M81 317h2M119 317h2M243 319h2M164 320h2M120 321h2M355 321h2M400 321h2M177 324h2M184 324h2M65 325h2M226 332h2M396 334h2M322 339h2M260 340h2M309 342h2M422 343h2M276 344h2M147 347h2M577 348h2M144 350h2M62 353h2M383 353h2M310 357h2M531 358h2M592 358h2M315 359h2M356 359h2M175 360h2M178 360h2M103 361h2M199 361h2M363 362h2M75 366h2M83 366h2M235 367h2M129 368h2M342 368h2M425 370h2M91 371h2M93 374h2M130 375h2M141 376h2M374 378h2M218 382h2M87 383h2M354 384h2M141 387h2M249 387h2M128 392h2M161 392h2M175 393h2M428 393h2M463 393h2M373 398h2M582 398h2M460 401h2M111 403h2M336 403h2M421 403h2M343 404h2M532 404h2M409 407h2M433 407h2M118 408h2M255 413h2M282 416h2M160 417h2M66 418h2M182 418h2M188 423h2M138 425h2M243 425h2M360 429h2M151 430h2M318 431h2M267 433h2M567 441h2M75 442h2M276 447h2M372 447h2M333 449h2M79 450h2M207 451h2M434 451h2M129 456h2M70 457h2M106 458h2M559 458h2M372 461h2M294 462h2M172 464h2M177 465h2M179 465h2M142 467h2M374 467h2M71 469h2M276 473h2M162 474h2M308 475h2M272 476h2M487 476h2M94 478h2M257 481h2M119 483h2M138 483h2M135 486h2M410 486h2M562 486h2M314 488h2M368 494h2M429 494h2M455 494h2M299 495h2M312 501h2M409 507h2M483 507h2M81 508h2M309 508h2M443 508h2M176 510h2M661 510h2M64 512h2M173 512h2M349 512h2M361 512h2" stroke="rgb(151,160,215)" stroke-width="2"/>
<path d="M390 46.5h1M302 51.5h1M331 62.5h1M229 71.5h1M178 88.5h1M468 143.5h1M82 147.5h1M84 152.5h1M481 172.5h1M396 176.5h1M466 176.5h1M498 177.5h1M381 178.5h1M496 181.5h1M376 182.5h1M100 184.5h1M130 185.5h1M98 186.5h1M389 186.5h1M382 188.5h1M350 189.5h1M347 191.5h1M132 192.5h1M342 192.5h1M602 192.5h1M92 194.5h1M101 194.5h1M131 194.5h1M123 196.5h1M320 196.5h1M408 197.5h1M63 199.5h1M345 199.5h1M134 200.5h1M70 201.5h1M214 201.5h1M162 202.5h1M308 202.5h1M114 203.5h1M222 203.5h1M354 203.5h1M120 205.5h1M319 205.5h1M370 205.5h1M229 206.5h1M149 208.5h1M501 209.5h1M78 211.5h1M130 211.5h1M215 211.5h1M227 211.5h1M92 214.5h1M366 214.5h1M121 215.5h1M62 216.5h1M86 216.5h1M297 216.5h1M69 217.5h1M146 217.5h1M366 217.5h1M724 217.5h1M92 218.5h1M225 218.5h1M135 219.5h1M82 220.5h1M393 220.5h1M318 222.5h1M197 223.5h1M215 223.5h1M305 223.5h1M355 223.5h1M673 224.5h1M162 225.5h1M180 225.5h1M194 226.5h1M328 226.5h1M463 226.5h1M116 228.5h1M211 228.5h1M353 228.5h1M300 229.5h1M152 230.5h1M299 230.5h1M420 230.5h1M666 230.5h1M456 231.5h1M98 232.5h1M113 232.5h1M463 232.5h1M268 233.5h1M352 233.5h1M63 234.5h1M468 234.5h1M192 236.5h1M293 236.5h1M114 237.5h1M550 237.5h1M293 239.5h1M92 240.5h1M123 240.5h1M157 240.5h1M332 240.5h1M209 242.5h1M217 242.5h1M233 242.5h1M265 242.5h1M471 242.5h1M535 242.5h1M197 243.5h1M63 244.5h1M366 244.5h1M94 246.5h1M175 246.5h1M197 246.5h1M406 247.5h1M162 249.5h1M362 249.5h1M266 250.5h1M179 251.5h1M292 252.5h1M163 253.5h1M87 254.5h1M266 254.5h1M270 254.5h1M346 254.5h1M347 254.5h1M99 255.5h1M317 255.5h1M325 256.5h1M213 257.5h1M285 257.5h1M356 257.5h1M365 257.5h1M176 258.5h1M135 259.5h1M521 259.5h1M68 260.5h1M118 260.5h1M176 260.5h1M196 260.5h1M331 260.5h1M422 260.5h1M208 261.5h1M294 261.5h1M273 262.5h1M593 263.5h1M215 264.5h1M62 265.5h1M157 265.5h1M320 265.5h1M191 266.5h1M106 267.5h1M241 267.5h1M176 268.5h1M335 268.5h1M222 269.5h1M64 270.5h1M150 270.5h1M121 271.5h1M244 273.5h1M527 273.5h1M175 274.5h1M247 274.5h1M145 275.5h1M148 275.5h1M106 276.5h1M161 276.5h1M304 276.5h1M362 276.5h1M145 277.5h1M257 277.5h1M377 277.5h1M81 278.5h1M116 278.5h1M137 278.5h1M258 278.5h1M378 278.5h1M442 278.5h1M506 278.5h1M283 279.5h1M68 280.5h1M116 280.5h1M306 280.5h1M331 280.5h1M92 281.5h1M286 281.5h1M148 282.5h1M165 282.5h1M316 283.5h1M485 283.5h1M112 284.5h1M96 285.5h1M212 285.5h1M221 285.5h1M253 285.5h1M151 286.5h1M250 286.5h1M94 287.5h1M153 287.5h1M70 288.5h1M371 288.5h1M528 288.5h1M322 289.5h1M254 290.5h1M329 290.5h1M79 291.5h1M135 291.5h1M297 292.5h1M333 292.5h1M339 292.5h1M466 293.5h1M70 294.5h1M136 294.5h1M172 294.5h1M214 294.5h1M144 295.5h1M288 295.5h1M396 296.5h1M474 297.5h1M72 298.5h1M261 298.5h1M318 298.5h1M206 300.5h1M275 300.5h1M316 300.5h1M150 301.5h1M345 301.5h1M424 301.5h1M722 301.5h1M185 302.5h1M294 302.5h1M502 302.5h1M88 303.5h1M97 303.5h1M119 303.5h1M312 304.5h1M480 304.5h1M437 305.5h1M136 306.5h1M128 307.5h1M105 309.5h1M69 310.5h1M318 310.5h1M440 310.5h1M201 311.5h1M252 311.5h1M108 312.5h1M389 312.5h1M530 312.5h1M74 313.5h1M75 313.5h1M127 313.5h1M279 313.5h1M155 314.5h1M449 314.5h1M94 315.5h1M194 315.5h1M184 316.5h1M286 317.5h1M293 317.5h1M118 318.5h1M658 318.5h1M64 319.5h1M98 319.5h1M188 319.5h1M441 319.5h1M560 319.5h1M106 320.5h1M252 320.5h1M270 320.5h1M469 320.5h1M144 321.5h1M165 321.5h1M282 321.5h1M421 321.5h1M566 321.5h1M89 322.5h1M146 322.5h1M196 322.5h1M438 322.5h1M136 323.5h1M204 324.5h1M68 325.5h1M258 325.5h1M289 325.5h1M62 326.5h1M292 326.5h1M307 327.5h1M426 327.5h1M65 328.5h1M291 328.5h1M83 329.5h1M139 329.5h1M302 329.5h1M276 330.5h1M308 330.5h1M121 331.5h1M181 331.5h1M212 331.5h1M204 332.5h1M407 332.5h1M444 332.5h1M87 333.5h1M116 333.5h1M220 333.5h1M324 333.5h1M159 334.5h1M269 334.5h1M156 335.5h1M114 336.5h1M174 336.5h1M336 336.5h1M119 337.5h1M367 337.5h1M371 337.5h1M210 338.5h1M307 338.5h1M533 338.5h1M77 339.5h1M186 339.5h1M318 339.5h1M506 340.5h1M171 341.5h1M184 341.5h1M188 342.5h1M189 342.5h1M279 342.5h1M355 342.5h1M373 342.5h1M106 343.5h1M214 343.5h1M215 343.5h1M576 343.5h1M66 345.5h1M394 345.5h1M259 346.5h1M434 346.5h1M70 347.5h1M116 348.5h1M134 348.5h1M137 348.5h1M186 348.5h1M293 348.5h1M103 349.5h1M174 349.5h1M150 350.5h1M217 350.5h1M490 350.5h1M84 351.5h1M101 351.5h1M113 351.5h1M121 351.5h1M277 351.5h1M299 351.5h1M93 352.5h1M130 352.5h1M135 352.5h1M227 352.5h1M93 353.5h1M113 353.5h1M239 354.5h1M407 354.5h1M440 354.5h1M498 354.5h1M139 355.5h1M196 355.5h1M201 355.5h1M136 356.5h1M286 356.5h1M74 357.5h1M231 357.5h1M291 357.5h1M401 357.5h1M62 358.5h1M79 358.5h1M581 358.5h1M272 359.5h1M423 359.5h1M476 359.5h1M188 360.5h1M344 360.5h1M510 360.5h1M158 361.5h1M257 361.5h1M317 361.5h1M127 362.5h1M161 362.5h1M226 362.5h1M415 363.5h1M229 364.5h1M141 365.5h1M163 365.5h1M181 365.5h1M215 365.5h1M81 366.5h1M148 366.5h1M94 367.5h1M143 367.5h1M274 367.5h1M414 367.5h1M199 368.5h1M228 368.5h1M241 368.5h1M239 369.5h1M168 370.5h1M180 370.5h1M388 370.5h1M83 371.5h1M231 371.5h1M417 371.5h1M87 372.5h1M201 372.5h1M254 372.5h1M267 372.5h1M280 372.5h1M87 373.5h1M96 373.5h1M280 373.5h1M294 373.5h1M304 373.5h1M369 373.5h1M588 373.5h1M125 374.5h1M197 374.5h1M509 374.5h1M197 375.5h1M115 376.5h1M211 376.5h1M394 376.5h1M290 377.5h1M296 377.5h1M255 379.5h1M349 379.5h1M436 379.5h1M65 380.5h1M72 380.5h1M171 380.5h1M237 380.5h1M253 380.5h1M277 380.5h1M228 381.5h1M405 381.5h1M247 382.5h1M81 383.5h1M571 383.5h1M182 384.5h1M262 384.5h1M398 384.5h1M473 384.5h1M210 385.5h1M115 386.5h1M170 386.5h1M206 386.5h1M222 386.5h1M62 387.5h1M175 387.5h1M219 387.5h1M377 387.5h1M460 387.5h1M287 388.5h1M72 389.5h1M95 389.5h1M146 389.5h1M194 389.5h1M173 390.5h1M176 390.5h1M256 390.5h1M199 391.5h1M284 391.5h1M114 392.5h1M128 392.5h1M491 392.5h1M126 393.5h1M190 393.5h1M198 393.5h1M120 394.5h1M224 394.5h1M236 394.5h1M154 396.5h1M168 396.5h1M322 396.5h1M494 396.5h1M549 396.5h1M99 397.5h1M88 398.5h1M150 398.5h1M162 398.5h1M203 398.5h1M454 398.5h1M73 399.5h1M124 399.5h1M234 399.5h1M405 400.5h1M572 400.5h1M119 401.5h1M145 401.5h1M143 402.5h1M227 402.5h1M71 403.5h1M114 403.5h1M162 403.5h1M193 403.5h1M230 403.5h1M109 404.5h1M272 404.5h1M333 404.5h1M402 404.5h1M408 404.5h1M512 404.5h1M72 405.5h1M150 405.5h1M236 405.5h1M415 405.5h1M106 406.5h1M121 406.5h1M184 406.5h1M440 406.5h1M66 407.5h1M138 407.5h1M219 407.5h1M344 407.5h1M125 408.5h1M221 408.5h1M312 409.5h1M100 410.5h1M138 410.5h1M141 410.5h1M223 410.5h1M249 410.5h1M328 410.5h1M423 410.5h1M487 410.5h1M231 411.5h1M237 411.5h1M266 411.5h1M137 412.5h1M143 412.5h1M156 412.5h1M163 412.5h1M301 412.5h1M203 413.5h1M215 413.5h1M357 413.5h1M212 414.5h1M229 414.5h1M251 414.5h1M325 414.5h1M83 415.5h1M88 415.5h1M93 415.5h1M334 415.5h1M570 415.5h1M699 415.5h1M306 416.5h1M398 416.5h1M131 417.5h1M157 417.5h1M343 417.5h1M430 417.5h1M424 418.5h1M67 419.5h1M144 419.5h1M147 419.5h1M282 419.5h1M289 419.5h1M329 420.5h1M91 421.5h1M102 421.5h1M174 421.5h1M203 421.5h1M221 421.5h1M72 423.5h1M273 424.5h1M67 425.5h1M84 425.5h1M73 426.5h1M190 426.5h1M204 427.5h1M215 427.5h1M221 427.5h1M241 427.5h1M164 428.5h1M439 428.5h1M325 429.5h1M230 431.5h1M395 431.5h1M426 431.5h1M444 432.5h1M204 433.5h1M73 434.5h1M388 434.5h1M127 435.5h1M133 435.5h1M269 435.5h1M100 436.5h1M121 436.5h1M172 436.5h1M400 436.5h1M151 437.5h1M161 437.5h1M221 437.5h1M142 438.5h1M147 438.5h1M183 438.5h1M69 439.5h1M72 439.5h1M157 439.5h1M354 440.5h1M103 441.5h1M134 441.5h1M207 441.5h1M95 442.5h1M375 442.5h1M385 442.5h1M136 443.5h1M249 443.5h1M373 443.5h1M489 443.5h1M669 444.5h1M195 445.5h1M519 445.5h1M556 445.5h1M280 446.5h1M79 447.5h1M198 448.5h1M448 448.5h1M106 449.5h1M150 450.5h1M327 450.5h1M192 451.5h1M346 451.5h1M365 451.5h1M72 452.5h1M129 453.5h1M135 453.5h1M144 453.5h1M273 453.5h1M326 453.5h1M340 453.5h1M105 454.5h1M122 454.5h1M582 454.5h1M68 455.5h1M147 455.5h1M150 455.5h1M317 455.5h1M365 455.5h1M103 457.5h1M120 457.5h1M414 457.5h1M527 457.5h1M108 458.5h1M184 458.5h1M161 461.5h1M165 461.5h1M351 461.5h1M395 461.5h1M458 461.5h1M67 462.5h1M119 462.5h1M167 462.5h1M365 462.5h1M396 462.5h1M159 463.5h1M390 463.5h1M445 463.5h1M134 464.5h1M245 464.5h1M80 465.5h1M557 465.5h1M140 466.5h1M183 466.5h1M359 466.5h1M412 466.5h1M77 467.5h1M132 467.5h1M146 467.5h1M384 467.5h1M68 468.5h1M100 468.5h1M295 468.5h1M78 469.5h1M276 469.5h1M297 469.5h1M307 469.5h1M410 469.5h1M94 470.5h1M347 470.5h1M71 471.5h1M434 471.5h1M92 472.5h1M412 472.5h1M424 472.5h1M307 473.5h1M68 474.5h1M111 474.5h1M133 474.5h1M135 474.5h1M278 474.5h1M129 475.5h1M209 475.5h1M271 475.5h1M381 475.5h1M144 476.5h1M265 476.5h1M120 478.5h1M69 479.5h1M148 479.5h1M349 479.5h1M395 479.5h1M459 479.5h1M92 480.5h1M149 480.5h1M103 482.5h1M133 482.5h1M119 483.5h1M287 483.5h1M523 483.5h1M281 485.5h1M320 485.5h1M275 486.5h1M380 486.5h1M470 487.5h1M225 489.5h1M480 489.5h1M362 491.5h1M586 491.5h1M486 492.5h1M70 493.5h1M110 493.5h1M85 494.5h1M224 496.5h1M237 498.5h1M256 498.5h1M301 498.5h1M331 498.5h1M369 498.5h1M256 499.5h1M300 499.5h1M406 499.5h1M227 500.5h1M252 500.5h1M318 500.5h1M415 500.5h1M229 501.5h1M236 501.5h1M223 502.5h1M267 504.5h1M319 504.5h1M380 504.5h1M704 504.5h1M220 505.5h1M186 506.5h1M206 506.5h1M292 506.5h1M338 506.5h1M166 507.5h1M183 507.5h1M84 508.5h1M223 508.5h1M305 508.5h1M367 508.5h1M475 508.5h1M262 509.5h1M275 509.5h1M286 509.5h1M222 511.5h1M262 511.5h1M308 511.5h1M436 511.5h1M463 511.5h1" stroke="rgb(120,132,203)" stroke-width="1"/>
<path d="M233 113.5h2M252 115.5h2M458 177.5h2M390 181.5h2M111 188.5h2M337 194.5h2M355 194.5h2M331 196.5h2M354 198.5h2M435 198.5h2M288 200.5h2M381 201.5h2M414 202.5h2M560 203.5h2M96 204.5h2M128 204.5h2M142 204.5h2M170 204.5h2M137 205.5h2M179 205.5h2M212 205.5h2M338 206.5h2M596 207.5h2M357 209.5h2M63 210.5h2M104 212.5h2M285 213.5h2M203 214.5h2M134 215.5h2M127 216.5h2M281 216.5h2M222 217.5h2M371 217.5h2M62 218.5h2M404 218.5h2M320 219.5h2M219 220.5h2M307 221.5h2M337 221.5h2M428 221.5h2M85 222.5h2M173 222.5h2M118 223.5h2M397 223.5h2M111 224.5h2M247 224.5h2M294 225.5h2M162 226.5h2M142 228.5h2M192 228.5h2M678 229.5h2M375 230.5h2M467 230.5h2M70 231.5h2M62 232.5h2M91 232.5h2M151 234.5h2M156 235.5h2M68 238.5h2M178 238.5h2M146 240.5h2M250 240.5h2M116 242.5h2M302 242.5h2M174 243.5h2M296 243.5h2M320 245.5h2M177 246.5h2M287 247.5h2M198 249.5h2M517 249.5h2M71 251.5h2M181 254.5h2M268 254.5h2M289 255.5h2M273 257.5h2M478 257.5h2M310 258.5h2M254 259.5h2M146 261.5h2M259 262.5h2M268 262.5h2M332 262.5h2M433 262.5h2M772 262.5h2M74 263.5h2M385 263.5h2M334 264.5h2M73 265.5h2M278 265.5h2M164 266.5h2M182 266.5h2M466 266.5h2M77 267.5h2M170 267.5h2M274 267.5h2M350 268.5h2M439 268.5h2M114 269.5h2M357 269.5h2M145 273.5h2M186 273.5h2M111 274.5h2M95 275.5h2M342 275.5h2M270 277.5h2M136 279.5h2M106 280.5h2M464 280.5h2M71 281.5h2M155 281.5h2M240 284.5h2M308 284.5h2M355 284.5h2M412 285.5h2M100 286.5h2M210 286.5h2M184 287.5h2M205 288.5h2M286 288.5h2M357 289.5h2M426 289.5h2M145 290.5h2M199 290.5h2M134 291.5h2M424 291.5h2M563 292.5h2M115 293.5h2M143 293.5h2M146 293.5h2M135 294.5h2M165 294.5h2M232 296.5h2M134 297.5h2M142 298.5h2M264 298.5h2M345 298.5h2M512 298.5h2M636 299.5h2M317 300.5h2M243 301.5h2M408 301.5h2M420 301.5h2M123 302.5h2M100 304.5h2M314 304.5h2M351 304.5h2M77 306.5h2M71 307.5h2M90 308.5h2M245 308.5h2M308 308.5h2M147 309.5h2M151 309.5h2M392 309.5h2M131 313.5h2M109 314.5h2M269 314.5h2M350 316.5h2M325 317.5h2M212 318.5h2M418 319.5h2M272 320.5h2M93 321.5h2M227 321.5h2M257 321.5h2M375 321.5h2M400 322.5h2M173 323.5h2M437 324.5h2M506 324.5h2M349 325.5h2M168 326.5h2M248 326.5h2M127 327.5h2M204 327.5h2M247 327.5h2M141 328.5h2M122 329.5h2M273 330.5h2M151 331.5h2M261 331.5h2M275 331.5h2M70 332.5h2M77 332.5h2M105 332.5h2M139 332.5h2M192 332.5h2M227 332.5h2M243 333.5h2M537 333.5h2M123 334.5h2M555 334.5h2M151 335.5h2M250 335.5h2M548 336.5h2M401 337.5h2M491 337.5h2M223 338.5h2M310 338.5h2M87 339.5h2M182 340.5h2M290 340.5h2M158 341.5h2M168 341.5h2M321 341.5h2M94 342.5h2M444 342.5h2M457 342.5h2M77 345.5h2M237 345.5h2M241 345.5h2M362 345.5h2M72 346.5h2M82 346.5h2M83 346.5h2M392 346.5h2M409 346.5h2M593 346.5h2M142 347.5h2M281 348.5h2M491 348.5h2M87 349.5h2M95 349.5h2M411 349.5h2M406 351.5h2M222 352.5h2M277 352.5h2M218 353.5h2M240 353.5h2M528 353.5h2M105 355.5h2M167 355.5h2M301 356.5h2M62 357.5h2M772 357.5h2M98 358.5h2M204 358.5h2M79 359.5h2M139 359.5h2M154 359.5h2M162 360.5h2M84 362.5h2M281 362.5h2M343 362.5h2M234 363.5h2M63 364.5h2M104 364.5h2M191 364.5h2M293 365.5h2M398 365.5h2M65 367.5h2M125 369.5h2M118 370.5h2M178 370.5h2M249 370.5h2M303 370.5h2M385 370.5h2M119 371.5h2M239 371.5h2M290 372.5h2M465 372.5h2M153 373.5h2M70 374.5h2M113 374.5h2M341 374.5h2M416 374.5h2M135 376.5h2M149 380.5h2M269 380.5h2M341 380.5h2M106 381.5h2M91 382.5h2M92 383.5h2M274 383.5h2M130 384.5h2M159 384.5h2M325 384.5h2M107 385.5h2M519 385.5h2M341 386.5h2M161 387.5h2M141 388.5h2M159 388.5h2M141 389.5h2M448 389.5h2M108 390.5h2M168 392.5h2M76 393.5h2M111 393.5h2M368 394.5h2M167 395.5h2M83 396.5h2M304 396.5h2M219 397.5h2M532 398.5h2M100 399.5h2M554 399.5h2M749 399.5h2M228 402.5h2M444 403.5h2M634 403.5h2M238 404.5h2M89 405.5h2M132 405.5h2M410 405.5h2M414 405.5h2M147 406.5h2M180 406.5h2M201 406.5h2M472 406.5h2M352 407.5h2M486 407.5h2M139 408.5h2M242 410.5h2M427 410.5h2M163 413.5h2M258 413.5h2M424 414.5h2M217 415.5h2M502 415.5h2M62 416.5h2M431 416.5h2M543 416.5h2M142 417.5h2M211 417.5h2M88 418.5h2M105 418.5h2M652 418.5h2M109 419.5h2M204 419.5h2M293 419.5h2M110 420.5h2M343 420.5h2M478 420.5h2M232 421.5h2M338 421.5h2M231 422.5h2M221 423.5h2M132 424.5h2M137 424.5h2M382 424.5h2M403 424.5h2M66 425.5h2M293 425.5h2M160 426.5h2M526 426.5h2M163 427.5h2M560 427.5h2M196 428.5h2M201 430.5h2M76 431.5h2M153 431.5h2M475 431.5h2M63 432.5h2M153 432.5h2M139 433.5h2M173 433.5h2M309 434.5h2M119 435.5h2M311 435.5h2M450 435.5h2M132 436.5h2M223 436.5h2M487 436.5h2M165 438.5h2M211 438.5h2M89 439.5h2M121 439.5h2M504 440.5h2M124 441.5h2M82 442.5h2M188 442.5h2M202 442.5h2M173 443.5h2M194 443.5h2M96 446.5h2M382 446.5h2M171 447.5h2M563 447.5h2M243 449.5h2M154 450.5h2M188 450.5h2M191 450.5h2M401 450.5h2M266 451.5h2M323 452.5h2M94 454.5h2M330 455.5h2M161 456.5h2M447 456.5h2M167 458.5h2M234 458.5h2M258 458.5h2M226 460.5h2M90 461.5h2M131 461.5h2M149 461.5h2M162 461.5h2M381 461.5h2M232 462.5h2M413 463.5h2M411 465.5h2M103 467.5h2M225 467.5h2M108 468.5h2M147 468.5h2M82 470.5h2M163 470.5h2M398 470.5h2M517 470.5h2M101 471.5h2M207 472.5h2M524 473.5h2M81 474.5h2M366 474.5h2M115 475.5h2M461 475.5h2M65 476.5h2M88 476.5h2M119 476.5h2M410 478.5h2M75 479.5h2M94 479.5h2M305 479.5h2M310 479.5h2M375 479.5h2M407 479.5h2M318 480.5h2M282 481.5h2M393 481.5h2M481 481.5h2M135 483.5h2M108 485.5h2M347 486.5h2M384 488.5h2M689 488.5h2M108 489.5h2M386 489.5h2M374 490.5h2M254 491.5h2M310 496.5h2M398 498.5h2M222 499.5h2M229 499.5h2M277 499.5h2M94 501.5h2M215 501.5h2M79 502.5h2M85 502.5h2M201 502.5h2M70 503.5h2M64 504.5h2M268 504.5h2M347 504.5h2M65 505.5h2M219 505.5h2M306 505.5h2M346 505.5h2M379 505.5h2M216 506.5h2M445 506.5h2M173 507.5h2M348 507.5h2M85 508.5h2M309 508.5h2M90 509.5h2M455 509.5h2M363 510.5h2M461 510.5h2M157 511.5h2M174 511.5h2" stroke="rgb(120,132,203)" stroke-width="1"/>
<path d="M240 46h1M383 73h1M92 107h1M261 121h1M469 171h1M416 172h1M482 176h1M411 181h1M443 187h1M457 188h1M362 191h1M484 191h1M515 196h1M409 197h1M338 199h1M592 199h1M149 201h1M262 202h1M87 203h1M196 203h1M129 204h1M135 205h1M407 205h1M507 205h1M386 206h1M154 208h1M424 208h1M167 210h1M200 210h1M287 210h1M331 215h1M135 216h1M416 216h1M137 218h1M289 219h1M264 220h1M365 222h1M91 223h1M367 225h1M200 227h1M176 228h1M187 228h1M259 229h1M285 232h1M225 233h1M248 233h1M418 233h1M467 233h1M714 233h1M302 234h1M754 234h1M213 235h1M200 236h1M368 237h1M163 238h1M137 239h1M473 239h1M145 241h1M479 241h1M284 242h1M99 244h1M245 244h1M77 245h1M324 245h1M564 246h1M228 247h1M296 247h1M174 248h1M261 248h1M318 248h1M340 248h1M116 249h1M121 249h1M138 249h1M249 249h1M259 249h1M476 249h1M149 250h1M341 250h1M81 251h1M179 251h1M373 251h1M152 252h1M190 254h1M80 255h1M304 255h1M212 257h1M263 257h1M389 257h1M327 259h1M176 260h1M335 260h1M242 262h1M275 262h1M73 263h1M518 263h1M386 265h1M99 266h1M122 266h1M218 266h1M281 268h1M160 269h1M229 269h1M186 271h1M103 272h1M274 272h1M362 272h1M73 273h1M227 273h1M374 273h1M490 273h1M81 274h1M260 274h1M291 276h1M491 276h1M438 278h1M78 279h1M170 279h1M567 279h1M70 280h1M95 280h1M451 281h1M449 282h1M466 282h1M111 284h1M176 284h1M325 284h1M363 284h1M171 285h1M201 288h1M252 288h1M245 290h1M290 291h1M303 292h1M305 292h1M90 294h1M245 294h1M123 295h1M146 296h1M323 296h1M421 297h1M399 298h1M329 299h1M133 300h1M216 300h1M246 300h1M324 300h1M280 301h1M175 302h1M279 303h1M362 303h1M93 305h1M240 305h1M164 306h1M141 307h1M333 307h1M183 308h1M199 308h1M142 309h1M74 310h1M82 310h1M114 310h1M650 310h1M159 313h1M194 313h1M324 313h1M199 314h1M153 316h1M308 316h1M161 317h1M196 317h1M243 317h1M183 318h1M340 319h1M93 320h1M175 320h1M273 320h1M155 321h1M256 321h1M107 323h1M201 323h1M104 324h1M138 324h1M86 325h1M91 325h1M124 325h1M416 325h1M542 325h1M119 326h1M132 326h1M126 327h1M259 327h1M475 328h1M95 331h1M129 332h1M221 332h1M391 332h1M90 333h1M197 335h1M329 335h1M169 336h1M382 337h1M283 338h1M325 339h1M373 339h1M495 339h1M227 340h1M176 341h1M338 341h1M340 341h1M522 344h1M406 345h1M133 348h1M279 348h1M589 348h1M71 349h1M161 349h1M229 351h1M246 351h1M282 351h1M321 351h1M75 353h1M114 354h1M122 355h1M233 355h1M114 357h1M118 358h1M373 358h1M76 359h1M137 359h1M142 359h1M259 360h1M302 360h1M265 365h1M418 365h1M193 366h1M209 366h1M284 366h1M292 366h1M494 366h1M88 367h1M234 369h1M354 369h1M363 370h1M115 372h1M97 373h1M265 373h1M333 373h1M195 374h1M343 374h1M385 374h1M391 374h1M453 374h1M699 374h1M179 376h1M507 376h1M463 378h1M273 379h1M120 380h1M134 381h1M154 381h1M443 381h1M74 382h1M98 382h1M274 382h1M243 383h1M544 383h1M103 384h1M118 384h1M248 386h1M154 387h1M389 387h1M65 388h1M118 388h1M188 388h1M136 389h1M136 390h1M170 390h1M288 390h1M325 390h1M328 391h1M98 392h1M254 392h1M462 393h1M646 393h1M141 394h1M254 394h1M269 394h1M106 396h1M100 397h1M275 397h1M554 397h1M238 398h1M377 398h1M459 398h1M503 398h1M155 399h1M312 399h1M87 400h1M130 400h1M498 400h1M100 401h1M367 401h1M92 402h1M455 402h1M175 403h1M146 404h1M409 404h1M88 405h1M132 405h1M172 405h1M193 405h1M668 405h1M306 406h1M64 407h1M134 407h1M187 408h1M132 409h1M224 409h1M73 410h1M244 410h1M410 410h1M77 411h1M103 411h1M152 411h1M170 412h1M238 412h1M325 412h1M288 413h1M260 415h1M333 415h1M163 416h1M248 416h1M255 416h1M298 416h1M64 417h1M70 417h1M534 417h1M158 419h1M302 419h1M225 420h1M326 420h1M146 421h1M283 421h1M304 422h1M90 423h1M147 423h1M80 425h1M201 425h1M405 428h1M475 428h1M167 429h1M108 430h1M133 430h1M414 430h1M521 430h1M116 431h1M272 431h1M110 432h1M143 432h1M147 434h1M385 434h1M68 435h1M359 435h1M79 436h1M220 436h1M504 436h1M107 437h1M218 437h1M382 437h1M265 438h1M308 438h1M215 440h1M117 441h1M166 442h1M85 443h1M147 443h1M163 443h1M354 444h1M403 444h1M282 445h1M553 445h1M268 446h1M105 447h1M181 447h1M337 448h1M76 449h1M211 449h1M85 450h1M186 451h1M344 451h1M113 452h1M181 452h1M198 452h1M65 453h1M352 453h1M264 454h1M560 454h1M399 455h1M512 457h1M135 458h1M335 458h1M189 459h1M75 460h1M106 460h1M343 460h1M170 461h1M400 461h1M487 461h1M81 462h1M400 463h1M430 464h1M115 465h1M325 465h1M375 466h1M135 467h1M212 467h1M396 467h1M84 468h1M110 468h1M230 468h1M460 468h1M211 469h1M144 470h1M121 471h1M326 471h1M439 471h1M477 471h1M80 472h1M137 473h1M307 477h1M205 478h1M353 478h1M114 481h1M306 481h1M346 481h1M108 482h1M102 483h1M262 483h1M101 484h1M258 485h1M382 486h1M303 487h1M92 488h1M113 488h1M116 488h1M174 488h1M256 488h1M290 488h1M376 488h1M508 489h1M112 490h1M116 490h1M294 491h1M473 492h1M408 493h1M395 495h1M220 496h1M223 496h1M498 496h1M206 498h1M408 499h1M265 500h1M279 500h1M237 501h1M338 501h1M345 501h1M525 501h1M675 502h1M84 503h1M387 503h1M201 504h1M248 504h1M301 504h1M338 505h1M82 506h1M401 506h1M70 507h1M272 507h1M75 508h1M191 508h1M417 509h1M463 509h1M297 510h1M152 511h1M289 511h1M150 512h1M306 512h1M382 512h1" stroke="rgb(120,132,203)" stroke-width="2"/>
<path d="M152 123h2M136 185h2M384 185h2M561 188h2M340 190h2M548 197h2M349 204h2M98 207h2M326 209h2M347 210h2M252 212h2M140 213h2M239 215h2M201 217h2M227 218h2M246 218h2M293 220h2M358 222h2M252 223h2M181 227h2M199 228h2M243 228h2M277 230h2M352 230h2M111 234h2M278 235h2M258 236h2M529 237h2M189 238h2M709 239h2M263 241h2M371 243h2M319 245h2M63 251h2M288 252h2M483 252h2M126 257h2M217 257h2M458 259h2M132 260h2M280 260h2M401 261h2M81 262h2M123 264h2M260 265h2M204 266h2M101 268h2M95 269h2M423 272h2M135 277h2M126 279h2M213 282h2M62 283h2M357 285h2M108 288h2M171 288h2M549 292h2M126 293h2M253 293h2M325 293h2M269 295h2M445 296h2M460 298h2M509 301h2M133 304h2M316 306h2M410 313h2M348 323h2M426 326h2M431 326h2M79 327h2M234 329h2M265 331h2M413 334h2M287 335h2M69 338h2M107 339h2M78 341h2M83 343h2M259 344h2M194 345h2M769 348h2M199 350h2M405 350h2M83 351h2M531 351h2M134 352h2M251 353h2M141 357h2M189 357h2M212 359h2M296 359h2M166 360h2M440 361h2M116 363h2M782 363h2M179 364h2M298 364h2M310 366h2M144 367h2M667 367h2M246 370h2M659 372h2M246 373h2M150 374h2M406 374h2M477 375h2M451 376h2M136 378h2M216 382h2M288 383h2M158 384h2M296 384h2M294 386h2M152 390h2M145 392h2M119 394h2M138 394h2M459 395h2M315 396h2M324 398h2M333 400h2M543 402h2M145 403h2M66 404h2M334 404h2M109 408h2M220 408h2M308 408h2M178 412h2M93 415h2M234 416h2M91 417h2M198 417h2M137 420h2M446 421h2M584 421h2M108 423h2M290 423h2M323 424h2M411 424h2M100 426h2M147 429h2M282 430h2M206 433h2M114 435h2M280 435h2M141 436h2M261 436h2M186 439h2M462 440h2M257 441h2M88 442h2M574 442h2M247 445h2M111 447h2M143 447h2M176 447h2M169 448h2M126 453h2M179 453h2M201 453h2M166 457h2M367 458h2M557 459h2M563 459h2M176 460h2M346 460h2M191 462h2M508 463h2M149 464h2M354 464h2M447 466h2M139 470h2M101 471h2M127 473h2M224 473h2M295 474h2M85 475h2M408 475h2M388 477h2M111 479h2M254 481h2M259 481h2M399 481h2M474 483h2M106 485h2M130 485h2M288 486h2M460 486h2M312 487h2M285 488h2M338 490h2M93 493h2M234 496h2M345 496h2M69 499h2M258 500h2M271 501h2M297 503h2M300 503h2M302 506h2M273 508h2M464 508h2M345 509h2" stroke="rgb(120,132,203)" stroke-width="2"/>
<path d="M444 174.5h1M399 175.5h1M157 176.5h1M133 184.5h1M137 185.5h1M341 187.5h1M87 192.5h1M111 193.5h1M450 193.5h1M128 195.5h1M104 196.5h1M595 199.5h1M284 200.5h1M307 201.5h1M409 201.5h1M506 201.5h1M211 202.5h1M276 203.5h1M249 204.5h1M279 206.5h1M464 207.5h1M244 208.5h1M344 208.5h1M79 210.5h1M80 210.5h1M359 210.5h1M190 211.5h1M345 211.5h1M188 212.5h1M71 213.5h1M214 213.5h1M247 213.5h1M73 214.5h1M691 214.5h1M90 216.5h1M194 218.5h1M264 218.5h1M301 218.5h1M255 219.5h1M381 220.5h1M458 220.5h1M145 221.5h1M207 221.5h1M343 221.5h1M352 221.5h1M222 222.5h1M296 222.5h1M372 222.5h1M659 223.5h1M220 224.5h1M246 225.5h1M88 226.5h1M345 226.5h1M356 226.5h1M450 226.5h1M425 227.5h1M540 228.5h1M114 229.5h1M338 229.5h1M85 230.5h1M122 230.5h1M367 230.5h1M151 231.5h1M475 231.5h1M249 232.5h1M105 233.5h1M138 234.5h1M194 234.5h1M319 234.5h1M357 234.5h1M70 236.5h1M117 237.5h1M204 238.5h1M384 238.5h1M206 240.5h1M78 241.5h1M126 241.5h1M296 241.5h1M337 241.5h1M159 242.5h1M125 243.5h1M211 243.5h1M192 244.5h1M227 244.5h1M393 245.5h1M281 248.5h1M71 249.5h1M485 249.5h1M155 250.5h1M269 250.5h1M307 250.5h1M341 250.5h1M386 250.5h1M290 252.5h1M180 253.5h1M200 253.5h1M278 253.5h1M83 254.5h1M279 255.5h1M335 256.5h1M383 256.5h1M111 258.5h1M112 259.5h1M167 259.5h1M242 260.5h1M354 261.5h1M433 261.5h1M298 262.5h1M380 263.5h1M701 263.5h1M75 264.5h1M76 264.5h1M94 264.5h1M336 264.5h1M472 264.5h1M119 266.5h1M266 266.5h1M492 267.5h1M262 268.5h1M309 269.5h1M98 274.5h1M126 274.5h1M499 274.5h1M153 275.5h1M177 276.5h1M352 276.5h1M215 277.5h1M80 278.5h1M87 278.5h1M107 278.5h1M169 278.5h1M197 279.5h1M153 280.5h1M335 280.5h1M766 282.5h1M158 283.5h1M213 283.5h1M297 283.5h1M419 284.5h1M190 285.5h1M173 287.5h1M187 288.5h1M191 288.5h1M264 290.5h1M172 291.5h1M248 291.5h1M318 293.5h1M246 295.5h1M353 295.5h1M135 296.5h1M129 298.5h1M203 299.5h1M347 299.5h1M120 302.5h1M483 303.5h1M63 305.5h1M443 306.5h1M288 307.5h1M326 309.5h1M261 310.5h1M70 311.5h1M154 311.5h1M405 311.5h1M442 311.5h1M121 312.5h1M258 312.5h1M166 314.5h1M110 315.5h1M123 315.5h1M457 316.5h1M110 317.5h1M384 317.5h1M102 318.5h1M376 318.5h1M126 319.5h1M115 320.5h1M278 321.5h1M346 321.5h1M117 323.5h1M229 323.5h1M209 324.5h1M240 324.5h1M155 325.5h1M196 325.5h1M410 325.5h1M631 325.5h1M80 326.5h1M516 326.5h1M176 327.5h1M120 329.5h1M132 330.5h1M103 331.5h1M306 332.5h1M124 333.5h1M108 334.5h1M283 334.5h1M112 335.5h1M124 335.5h1M447 336.5h1M275 337.5h1M392 337.5h1M172 338.5h1M392 338.5h1M432 338.5h1M241 339.5h1M120 340.5h1M465 340.5h1M620 340.5h1M216 341.5h1M281 341.5h1M285 341.5h1M164 343.5h1M200 343.5h1M368 343.5h1M175 344.5h1M480 345.5h1M545 345.5h1M194 346.5h1M108 347.5h1M144 347.5h1M119 349.5h1M197 349.5h1M144 350.5h1M484 350.5h1M538 351.5h1M136 353.5h1M110 356.5h1M115 356.5h1M185 357.5h1M233 357.5h1M306 359.5h1M440 359.5h1M147 361.5h1M426 361.5h1M75 362.5h1M208 362.5h1M272 362.5h1M95 363.5h1M165 363.5h1M200 363.5h1M206 363.5h1M387 363.5h1M426 365.5h1M181 366.5h1M136 367.5h1M219 367.5h1M277 367.5h1M380 367.5h1M97 368.5h1M84 369.5h1M124 370.5h1M129 371.5h1M135 371.5h1M154 371.5h1M166 371.5h1M76 373.5h1M199 373.5h1M208 373.5h1M370 373.5h1M64 375.5h1M366 375.5h1M88 376.5h1M194 376.5h1M128 377.5h1M550 377.5h1M126 378.5h1M292 378.5h1M84 379.5h1M93 379.5h1M136 379.5h1M185 379.5h1M173 380.5h1M84 381.5h1M88 381.5h1M196 381.5h1M168 382.5h1M236 382.5h1M475 382.5h1M179 383.5h1M327 383.5h1M112 384.5h1M318 385.5h1M375 386.5h1M475 386.5h1M92 387.5h1M95 387.5h1M182 387.5h1M186 387.5h1M240 387.5h1M488 388.5h1M764 389.5h1M251 390.5h1M67 391.5h1M234 391.5h1M203 392.5h1M231 392.5h1M185 393.5h1M255 393.5h1M282 393.5h1M476 393.5h1M101 394.5h1M152 394.5h1M490 394.5h1M77 395.5h1M179 395.5h1M89 396.5h1M249 396.5h1M262 397.5h1M337 397.5h1M190 398.5h1M512 398.5h1M107 399.5h1M108 399.5h1M136 399.5h1M229 399.5h1M378 399.5h1M306 400.5h1M157 401.5h1M168 401.5h1M183 401.5h1M196 402.5h1M230 402.5h1M77 403.5h1M275 403.5h1M523 403.5h1M201 404.5h1M204 405.5h1M87 406.5h1M295 407.5h1M206 408.5h1M265 408.5h1M351 408.5h1M433 408.5h1M463 408.5h1M323 409.5h1M408 410.5h1M92 411.5h1M119 411.5h1M152 411.5h1M263 411.5h1M64 412.5h1M176 413.5h1M346 413.5h1M243 414.5h1M416 414.5h1M93 416.5h1M115 416.5h1M185 416.5h1M326 417.5h1M133 418.5h1M601 418.5h1M126 419.5h1M487 419.5h1M296 420.5h1M204 421.5h1M216 421.5h1M238 421.5h1M129 422.5h1M149 422.5h1M436 422.5h1M102 423.5h1M126 424.5h1M228 424.5h1M167 426.5h1M212 426.5h1M274 426.5h1M384 427.5h1M602 427.5h1M186 428.5h1M229 428.5h1M288 428.5h1M468 428.5h1M236 429.5h1M147 431.5h1M279 431.5h1M292 431.5h1M660 431.5h1M139 432.5h1M165 432.5h1M296 432.5h1M421 432.5h1M74 434.5h1M190 434.5h1M521 435.5h1M178 436.5h1M260 436.5h1M113 437.5h1M133 438.5h1M398 438.5h1M525 438.5h1M161 439.5h1M397 439.5h1M155 440.5h1M159 440.5h1M93 441.5h1M197 441.5h1M365 441.5h1M483 441.5h1M146 443.5h1M174 443.5h1M279 443.5h1M356 443.5h1M417 443.5h1M585 443.5h1M148 444.5h1M172 444.5h1M425 444.5h1M208 445.5h1M379 446.5h1M402 446.5h1M671 446.5h1M369 447.5h1M117 448.5h1M260 450.5h1M506 450.5h1M244 451.5h1M189 453.5h1M367 453.5h1M405 453.5h1M128 454.5h1M132 454.5h1M317 454.5h1M488 454.5h1M513 454.5h1M371 455.5h1M513 455.5h1M100 456.5h1M180 456.5h1M320 456.5h1M506 456.5h1M72 457.5h1M152 457.5h1M415 457.5h1M143 458.5h1M418 458.5h1M159 459.5h1M195 459.5h1M392 461.5h1M397 461.5h1M447 461.5h1M147 462.5h1M173 462.5h1M364 462.5h1M604 462.5h1M168 463.5h1M225 464.5h1M297 466.5h1M508 466.5h1M229 467.5h1M550 467.5h1M64 468.5h1M75 469.5h1M112 469.5h1M331 469.5h1M279 471.5h1M369 471.5h1M329 472.5h1M370 472.5h1M434 472.5h1M64 473.5h1M129 473.5h1M154 473.5h1M327 473.5h1M341 473.5h1M385 473.5h1M92 474.5h1M355 474.5h1M264 475.5h1M286 475.5h1M110 476.5h1M325 476.5h1M434 476.5h1M421 477.5h1M201 478.5h1M292 478.5h1M326 478.5h1M358 478.5h1M453 480.5h1M402 481.5h1M87 483.5h1M248 485.5h1M90 486.5h1M558 486.5h1M77 488.5h1M229 488.5h1M221 490.5h1M408 490.5h1M257 491.5h1M248 492.5h1M290 492.5h1M291 492.5h1M293 492.5h1M353 492.5h1M387 493.5h1M393 493.5h1M247 494.5h1M295 494.5h1M336 494.5h1M264 496.5h1M321 497.5h1M85 498.5h1M202 498.5h1M284 498.5h1M317 498.5h1M328 499.5h1M202 501.5h1M370 501.5h1M184 502.5h1M191 502.5h1M179 503.5h1M224 503.5h1M313 503.5h1M192 504.5h1M308 504.5h1M496 505.5h1M208 507.5h1M207 508.5h1M185 509.5h1M261 509.5h1M166 511.5h1M168 511.5h1M304 511.5h1M458 511.5h1M462 511.5h1" stroke="rgb(89,103,191)" stroke-width="1"/>
<path d="M298 53.5h2M104 92.5h2M483 170.5h2M490 172.5h2M377 179.5h2M435 179.5h2M753 181.5h2M370 186.5h2M379 187.5h2M516 188.5h2M451 189.5h2M497 193.5h2M327 194.5h2M378 198.5h2M126 199.5h2M286 201.5h2M448 202.5h2M182 203.5h2M438 207.5h2M186 208.5h2M319 211.5h2M470 211.5h2M90 213.5h2M171 214.5h2M203 215.5h2M100 217.5h2M277 218.5h2M282 218.5h2M416 218.5h2M263 220.5h2M546 220.5h2M66 222.5h2M138 223.5h2M474 223.5h2M238 225.5h2M510 228.5h2M153 229.5h2M105 230.5h2M295 234.5h2M466 235.5h2M122 238.5h2M267 238.5h2M278 238.5h2M529 238.5h2M250 239.5h2M108 241.5h2M250 241.5h2M64 242.5h2M118 242.5h2M275 243.5h2M233 244.5h2M158 246.5h2M225 246.5h2M98 247.5h2M118 248.5h2M217 248.5h2M88 249.5h2M279 249.5h2M200 251.5h2M277 251.5h2M342 251.5h2M564 251.5h2M128 252.5h2M168 253.5h2M367 253.5h2M380 254.5h2M444 255.5h2M170 258.5h2M220 258.5h2M232 258.5h2M383 260.5h2M297 261.5h2M208 263.5h2M336 263.5h2M158 265.5h2M329 266.5h2M389 267.5h2M154 268.5h2M212 268.5h2M309 268.5h2M485 268.5h2M70 269.5h2M223 269.5h2M452 269.5h2M309 270.5h2M443 270.5h2M65 272.5h2M152 272.5h2M217 274.5h2M152 276.5h2M237 277.5h2M329 279.5h2M188 280.5h2M504 280.5h2M191 282.5h2M432 285.5h2M107 286.5h2M149 286.5h2M296 286.5h2M382 287.5h2M252 289.5h2M106 291.5h2M316 291.5h2M85 292.5h2M201 292.5h2M280 292.5h2M287 292.5h2M187 294.5h2M334 297.5h2M122 298.5h2M185 299.5h2M419 299.5h2M72 300.5h2M349 300.5h2M83 304.5h2M354 304.5h2M305 305.5h2M609 305.5h2M74 306.5h2M72 307.5h2M103 307.5h2M188 307.5h2M302 307.5h2M367 307.5h2M151 308.5h2M153 308.5h2M294 308.5h2M70 310.5h2M226 310.5h2M466 312.5h2M147 314.5h2M248 316.5h2M187 317.5h2M358 317.5h2M405 318.5h2M182 321.5h2M210 323.5h2M514 323.5h2M133 324.5h2M169 325.5h2M336 325.5h2M519 325.5h2M111 327.5h2M450 328.5h2M286 329.5h2M70 333.5h2M103 333.5h2M398 334.5h2M532 337.5h2M453 338.5h2M136 341.5h2M299 341.5h2M141 342.5h2M329 342.5h2M89 344.5h2M115 344.5h2M226 346.5h2M426 346.5h2M257 349.5h2M64 350.5h2M145 350.5h2M318 350.5h2M165 351.5h2M378 351.5h2M348 354.5h2M225 356.5h2M230 356.5h2M557 356.5h2M191 357.5h2M203 357.5h2M67 359.5h2M190 359.5h2M130 360.5h2M604 360.5h2M67 361.5h2M188 362.5h2M206 362.5h2M251 362.5h2M521 362.5h2M412 363.5h2M374 364.5h2M140 365.5h2M502 365.5h2M155 366.5h2M71 367.5h2M92 367.5h2M335 367.5h2M149 368.5h2M162 368.5h2M101 369.5h2M219 369.5h2M338 369.5h2M240 370.5h2M274 370.5h2M270 371.5h2M400 371.5h2M424 371.5h2M90 372.5h2M147 372.5h2M74 375.5h2M370 375.5h2M182 376.5h2M341 376.5h2M363 376.5h2M163 378.5h2M286 378.5h2M399 378.5h2M290 379.5h2M290 380.5h2M209 381.5h2M183 382.5h2M100 383.5h2M285 383.5h2M220 385.5h2M344 385.5h2M470 386.5h2M167 387.5h2M457 387.5h2M84 388.5h2M214 388.5h2M187 389.5h2M285 389.5h2M112 390.5h2M282 390.5h2M205 392.5h2M113 394.5h2M280 394.5h2M205 395.5h2M371 395.5h2M204 398.5h2M494 398.5h2M96 399.5h2M518 401.5h2M71 402.5h2M139 402.5h2M556 402.5h2M218 404.5h2M228 405.5h2M302 405.5h2M349 405.5h2M406 406.5h2M406 407.5h2M91 408.5h2M214 408.5h2M501 409.5h2M86 410.5h2M109 410.5h2M81 411.5h2M177 411.5h2M189 411.5h2M245 411.5h2M248 413.5h2M426 413.5h2M240 414.5h2M198 415.5h2M173 416.5h2M422 418.5h2M95 420.5h2M242 423.5h2M368 423.5h2M86 425.5h2M121 425.5h2M136 425.5h2M399 426.5h2M527 434.5h2M172 435.5h2M74 439.5h2M212 439.5h2M369 440.5h2M108 441.5h2M146 441.5h2M72 443.5h2M454 443.5h2M110 445.5h2M156 446.5h2M188 447.5h2M209 448.5h2M117 449.5h2M175 453.5h2M231 455.5h2M443 455.5h2M140 458.5h2M129 459.5h2M232 460.5h2M425 460.5h2M490 460.5h2M247 461.5h2M333 461.5h2M463 462.5h2M106 463.5h2M390 465.5h2M573 465.5h2M319 466.5h2M418 467.5h2M229 468.5h2M774 469.5h2M149 474.5h2M476 475.5h2M492 475.5h2M389 476.5h2M143 477.5h2M332 477.5h2M86 478.5h2M118 478.5h2M560 478.5h2M694 478.5h2M465 479.5h2M291 480.5h2M124 481.5h2M95 483.5h2M330 483.5h2M91 484.5h2M286 485.5h2M422 485.5h2M390 486.5h2M396 487.5h2M233 490.5h2M243 490.5h2M225 492.5h2M76 493.5h2M250 494.5h2M330 494.5h2M237 496.5h2M247 498.5h2M489 498.5h2M62 500.5h2M317 500.5h2M187 501.5h2M467 501.5h2M359 503.5h2M353 504.5h2M183 505.5h2M195 505.5h2M392 505.5h2M352 506.5h2M66 508.5h2M159 508.5h2M167 508.5h2M164 510.5h2M226 510.5h2" stroke="rgb(89,103,191)" stroke-width="1"/>
<path d="M76 142h1M373 159h1M445 179h1M88 188h1M669 188h1M320 195h1M475 197h1M371 198h1M72 200h1M259 200h1M135 203h1M206 203h1M211 205h1M468 206h1M102 207h1M130 207h1M144 207h1M101 210h1M187 210h1M504 210h1M730 211h1M337 212h1M112 214h1M235 215h1M122 218h1M179 218h1M294 219h1M126 220h1M337 221h1M167 222h1M376 222h1M545 222h1M102 231h1M131 231h1M161 232h1M218 233h1M418 235h1M201 237h1M365 237h1M118 238h1M483 240h1M359 241h1M478 242h1M214 243h1M256 244h1M264 246h1M293 246h1M378 246h1M311 247h1M162 248h1M414 249h1M282 250h1M184 251h1M154 252h1M248 254h1M545 255h1M251 256h1M352 259h1M195 261h1M390 261h1M185 263h1M126 265h1M201 265h1M289 265h1M146 266h1M272 266h1M126 268h1M251 268h1M385 268h1M177 269h1M753 271h1M183 272h1M155 273h1M65 274h1M187 276h1M178 278h1M381 279h1M258 280h1M309 280h1M105 281h1M164 284h1M554 284h1M140 285h1M292 285h1M327 285h1M348 287h1M262 288h1M303 289h1M119 291h1M140 291h1M201 291h1M560 295h1M471 297h1M255 299h1M106 300h1M107 300h1M196 301h1M199 301h1M101 302h1M129 302h1M238 303h1M469 305h1M227 309h1M264 309h1M97 310h1M215 310h1M157 311h1M223 311h1M71 315h1M238 317h1M102 318h1M126 319h1M422 320h1M211 321h1M122 322h1M124 322h1M192 322h1M212 322h1M102 323h1M69 324h1M185 324h1M156 325h1M107 328h1M304 329h1M74 331h1M369 332h1M456 332h1M83 333h1M120 333h1M279 334h1M305 334h1M494 334h1M73 335h1M206 335h1M199 337h1M458 338h1M240 339h1M235 340h1M126 341h1M417 342h1M65 345h1M544 345h1M111 349h1M167 349h1M73 350h1M103 351h1M157 351h1M170 351h1M320 352h1M372 352h1M402 352h1M285 355h1M87 356h1M117 356h1M90 358h1M484 359h1M521 359h1M230 362h1M382 363h1M282 365h1M498 366h1M182 367h1M223 367h1M136 369h1M161 369h1M412 369h1M398 371h1M296 372h1M176 375h1M465 375h1M82 376h1M243 376h1M240 377h1M130 378h1M139 379h1M404 379h1M504 380h1M436 381h1M202 382h1M340 382h1M74 383h1M223 383h1M389 383h1M150 384h1M166 385h1M225 385h1M142 388h1M236 388h1M262 390h1M103 391h1M182 391h1M384 391h1M106 392h1M197 393h1M316 393h1M101 394h1M229 394h1M349 394h1M308 395h1M385 395h1M127 396h1M436 396h1M180 397h1M277 397h1M338 398h1M347 398h1M350 398h1M134 399h1M67 400h1M202 400h1M486 400h1M65 401h1M278 401h1M181 406h1M484 407h1M767 407h1M71 408h1M236 408h1M489 408h1M214 410h1M299 411h1M308 413h1M152 414h1M680 414h1M239 416h1M329 416h1M210 418h1M248 418h1M116 419h1M397 419h1M166 420h1M223 421h1M320 422h1M205 423h1M286 423h1M380 424h1M273 428h1M95 429h1M107 430h1M118 430h1M229 430h1M281 430h1M137 431h1M186 432h1M123 433h1M215 433h1M230 433h1M405 433h1M225 434h1M289 434h1M285 435h1M295 435h1M580 435h1M139 437h1M267 437h1M449 437h1M197 438h1M297 439h1M174 440h1M179 440h1M275 440h1M200 442h1M261 444h1M180 446h1M290 446h1M112 447h1M195 448h1M341 448h1M471 448h1M159 450h1M256 450h1M353 451h1M364 451h1M151 455h1M98 458h1M119 458h1M159 459h1M345 459h1M177 460h1M196 460h1M632 461h1M87 462h1M158 462h1M176 462h1M320 462h1M473 464h1M491 464h1M112 465h1M232 467h1M406 467h1M130 468h1M437 468h1M485 468h1M566 468h1M120 469h1M129 471h1M158 471h1M214 472h1M140 473h1M416 473h1M334 474h1M139 475h1M202 475h1M288 476h1M351 476h1M406 476h1M210 477h1M419 477h1M281 478h1M492 479h1M106 480h1M138 481h1M391 481h1M434 481h1M440 481h1M114 482h1M648 482h1M364 484h1M291 485h1M123 486h1M125 486h1M84 487h1M288 487h1M235 488h1M416 488h1M304 489h1M332 489h1M255 492h1M335 492h1M375 492h1M68 494h1M235 495h1M383 495h1M342 496h1M514 496h1M216 498h1M291 498h1M357 498h1M459 498h1M261 499h1M77 500h1M225 500h1M409 502h1M187 503h1M465 504h1M68 505h1M756 506h1M510 507h1M174 508h1M230 508h1M343 508h1M316 509h1M401 509h1M168 510h1M199 511h1M161 512h1" stroke="rgb(89,103,191)" stroke-width="2"/>
<path d="M488 188h2M415 194h2M770 200h2M224 211h2M254 211h2M553 211h2M238 220h2M312 229h2M89 230h2M99 237h2M178 237h2M84 243h2M413 243h2M346 245h2M218 246h2M183 250h2M219 250h2M197 252h2M66 254h2M107 258h2M364 259h2M97 261h2M353 264h2M504 266h2M124 277h2M189 284h2M176 288h2M319 291h2M314 292h2M140 293h2M231 295h2M70 298h2M124 311h2M235 317h2M270 319h2M174 320h2M416 324h2M433 329h2M335 331h2M164 338h2M103 343h2M173 350h2M298 351h2M371 351h2M102 352h2M122 356h2M103 359h2M498 361h2M106 362h2M242 362h2M489 364h2M186 367h2M200 367h2M86 368h2M236 369h2M412 373h2M111 376h2M356 377h2M73 381h2M365 381h2M228 387h2M556 394h2M389 395h2M106 398h2M274 404h2M341 404h2M257 406h2M557 407h2M175 410h2M210 410h2M487 412h2M75 415h2M282 415h2M148 416h2M208 417h2M309 420h2M83 421h2M132 423h2M198 425h2M189 433h2M397 433h2M189 434h2M354 434h2M80 435h2M108 437h2M144 442h2M191 443h2M132 444h2M178 445h2M188 445h2M339 448h2M203 450h2M402 450h2M453 450h2M139 452h2M264 453h2M116 454h2M358 457h2M139 464h2M141 467h2M381 467h2M291 468h2M339 470h2M69 473h2M208 474h2M272 481h2M275 482h2M191 483h2M115 486h2M497 487h2M419 490h2M349 491h2M212 496h2M468 496h2M209 497h2M83 507h2M93 508h2M95 509h2M298 509h2M319 509h2M193 512h2M322 512h2" stroke="rgb(89,103,191)" stroke-width="2"/></g>
<g shape-rendering="crispEdges" fill="none" stroke-width="1"><path d="M522 100.5h2M519 101.5h5M717 101.5h3M516 102.5h7M713 102.5h6M513 103.5h9M708 103.5h11M510 104.5h12M705 104.5h12M511 105.5h11M704 105.5h12M509 106.5h12M704 106.5h11M509 107.5h11M702 107.5h12M509 108.5h10M702 108.5h13M508 109.5h11M701 109.5h12M507 110.5h11M700 110.5h13M507 111.5h11M699 111.5h13M506 112.5h11M698 112.5h13M506 113.5h10M697 113.5h12M505 114.5h11M697 114.5h12M504 115.5h11M695 115.5h13M504 116.5h11M695 116.5h12M503 117.5h11M694 117.5h13M502 118.5h11M693 118.5h13M502 119.5h11M693 119.5h12M501 120.5h12M692 120.5h13M501 121.5h11M691 121.5h12M500 122.5h11M690 122.5h13M500 123.5h11M689 123.5h12M499 124.5h11M689 124.5h12M498 125.5h12M688 125.5h12M498 126.5h10M687 126.5h12M497 127.5h11M685 127.5h13M497 128.5h11M685 128.5h12M496 129.5h11M684 129.5h12M495 130.5h12M683 130.5h13M494 131.5h12M681 131.5h1M683 131.5h11M494 132.5h12M681 132.5h13M493 133.5h12M680 133.5h13M493 134.5h11M679 134.5h14M492 135.5h11M678 135.5h13M492 136.5h11M678 136.5h12M491 137.5h11M676 137.5h14M490 138.5h12M676 138.5h13M489 139.5h12M676 139.5h12M490 140.5h11M674 140.5h13M489 141.5h11M674 141.5h12M488 142.5h11M672 142.5h13M487 143.5h11M672 143.5h12M487 144.5h11M671 144.5h12M486 145.5h12M669 145.5h13M486 146.5h11M669 146.5h12M485 147.5h11M668 147.5h13M484 148.5h12M667 148.5h13M484 149.5h11M666 149.5h13M483 150.5h12M666 150.5h13M482 151.5h12M665 151.5h13M481 152.5h13M664 152.5h13M481 153.5h12M663 153.5h13M481 154.5h10M663 154.5h12M480 155.5h11M661 155.5h13M479 156.5h11M661 156.5h13M478 157.5h12M659 157.5h14M478 158.5h11M658 158.5h14M477 159.5h11M658 159.5h13M477 160.5h11M657 160.5h14M476 161.5h11M656 161.5h14M476 162.5h11M655 162.5h13M475 163.5h11M654 163.5h13M474 164.5h12M653 164.5h13M473 165.5h12M652 165.5h14M473 166.5h11M651 166.5h13M472 167.5h12M651 167.5h13M471 168.5h12M650 168.5h13M471 169.5h12M649 169.5h13M470 170.5h12M648 170.5h13M470 171.5h11M647 171.5h13M469 172.5h12M645 172.5h15M468 173.5h13M645 173.5h14M468 174.5h11M644 174.5h14M467 175.5h11M644 175.5h13M467 176.5h11M642 176.5h14M466 177.5h12M641 177.5h14M465 178.5h12M641 178.5h13M464 179.5h12M640 179.5h13M464 180.5h11M638 180.5h14M463 181.5h12M638 181.5h13M463 182.5h11M637 182.5h13M462 183.5h12M636 183.5h14M462 184.5h11M635 184.5h14M461 185.5h12M634 185.5h14M460 186.5h12M633 186.5h14M459 187.5h12M632 187.5h14M459 188.5h11M632 188.5h13M458 189.5h12M630 189.5h15M457 190.5h12M629 190.5h14M456 191.5h12M629 191.5h13M456 192.5h12M627 192.5h14M455 193.5h11M627 193.5h13M455 194.5h12M626 194.5h13M454 195.5h12M624 195.5h14M453 196.5h12M624 196.5h14M453 197.5h12M623 197.5h14M452 198.5h12M622 198.5h14M451 199.5h12M621 199.5h14M451 200.5h11M620 200.5h13M450 201.5h12M619 201.5h14M450 202.5h11M618 202.5h15M449 203.5h12M618 203.5h13M448 204.5h12M617 204.5h14M447 205.5h12M615 205.5h14M446 206.5h12M615 206.5h13M446 207.5h11M614 207.5h13M445 208.5h12M613 208.5h14M444 209.5h12M611 209.5h14M444 210.5h12M611 210.5h13M443 211.5h12M609 211.5h14M442 212.5h12M609 212.5h13M442 213.5h12M607 213.5h15M441 214.5h12M606 214.5h15M441 215.5h12M606 215.5h14M439 216.5h13M604 216.5h15M439 217.5h12M603 217.5h15M438 218.5h12M603 218.5h14M437 219.5h13M601 219.5h15M437 220.5h12M600 220.5h15M436 221.5h12M599 221.5h15M436 222.5h12M599 222.5h14M435 223.5h13M598 223.5h14M434 224.5h12M597 224.5h15M433 225.5h13M596 225.5h14M433 226.5h12M595 226.5h14M432 227.5h12M593 227.5h16M431 228.5h13M593 228.5h14M431 229.5h12M592 229.5h14M430 230.5h12M591 230.5h14M430 231.5h11M590 231.5h14M428 232.5h13M589 232.5h15M428 233.5h12M588 233.5h14M427 234.5h12M587 234.5h14M426 235.5h12M586 235.5h15M425 236.5h13M585 236.5h15M424 237.5h13M583 237.5h16M424 238.5h13M582 238.5h16M424 239.5h12M582 239.5h15M423 240.5h12M581 240.5h14M422 241.5h12M580 241.5h15M421 242.5h13M578 242.5h15M421 243.5h12M578 243.5h15M420 244.5h12M576 244.5h16M419 245.5h13M576 245.5h15M418 246.5h12M574 246.5h16M418 247.5h12M574 247.5h15M417 248.5h13M572 248.5h16M416 249.5h13M571 249.5h16M416 250.5h11M571 250.5h15M414 251.5h13M569 251.5h15M414 252.5h12M568 252.5h16M413 253.5h13M567 253.5h16M412 254.5h13M566 254.5h15M412 255.5h12M565 255.5h16M411 256.5h13M564 256.5h16M411 257.5h12M563 257.5h15M409 258.5h13M561 258.5h16M408 259.5h13M561 259.5h15M408 260.5h13M560 260.5h15M407 261.5h13M559 261.5h16M406 262.5h14M558 262.5h16M406 263.5h12M557 263.5h15M405 264.5h13M556 264.5h16M404 265.5h12M554 265.5h17M403 266.5h13M553 266.5h16M402 267.5h13M552 267.5h16M402 268.5h13M551 268.5h17M400 269.5h14M551 269.5h15M400 270.5h13M549 270.5h16M400 271.5h12M548 271.5h16M398 272.5h14M547 272.5h16M398 273.5h13M545 273.5h18M397 274.5h14M545 274.5h15M396 275.5h13M544 275.5h16M396 276.5h12M543 276.5h16M395 277.5h13M542 277.5h16M395 278.5h12M539 278.5h1M541 278.5h16M394 279.5h12M540 279.5h15M392 280.5h13M538 280.5h16M392 281.5h13M537 281.5h16M391 282.5h13M536 282.5h16M390 283.5h13M535 283.5h17M390 284.5h12M534 284.5h16M389 285.5h13M533 285.5h16M388 286.5h13M532 286.5h16M387 287.5h14M531 287.5h15M386 288.5h13M529 288.5h17M385 289.5h14M528 289.5h17M384 290.5h14M527 290.5h17M384 291.5h13M526 291.5h16M384 292.5h12M524 292.5h17M382 293.5h14M524 293.5h17M382 294.5h13M522 294.5h17M380 295.5h14M521 295.5h17M380 296.5h14M520 296.5h17M379 297.5h14M518 297.5h18M378 298.5h14M517 298.5h17M377 299.5h14M516 299.5h17M376 300.5h14M516 300.5h16M376 301.5h13M514 301.5h17M375 302.5h14M514 302.5h17M374 303.5h14M511 303.5h18M373 304.5h14M511 304.5h17M372 305.5h13M510 305.5h17M372 306.5h13M508 306.5h18M371 307.5h14M507 307.5h18M370 308.5h14M506 308.5h18M369 309.5h14M505 309.5h18M368 310.5h15M503 310.5h18M367 311.5h14M502 311.5h18M366 312.5h15M501 312.5h18M366 313.5h14M500 313.5h17M365 314.5h14M499 314.5h17M364 315.5h14M498 315.5h17M363 316.5h14M496 316.5h18M363 317.5h13M495 317.5h18M362 318.5h13M494 318.5h19M360 319.5h14M493 319.5h18M360 320.5h14M493 320.5h17M358 321.5h15M491 321.5h17M358 322.5h14M489 322.5h19M357 323.5h14M488 323.5h19M356 324.5h14M487 324.5h19M356 325.5h14M485 325.5h19M354 326.5h15M484 326.5h19M353 327.5h16M483 327.5h19M352 328.5h15M482 328.5h18M352 329.5h15M480 329.5h19M350 330.5h15M480 330.5h18M350 331.5h15M479 331.5h17M349 332.5h14M477 332.5h18M348 333.5h15M476 333.5h18M347 334.5h15M474 334.5h19M346 335.5h15M473 335.5h18M492 335.5h1M346 336.5h14M472 336.5h18M344 337.5h15M471 337.5h18M344 338.5h14M469 338.5h18M342 339.5h16M468 339.5h18M341 340.5h15M467 340.5h18M341 341.5h15M466 341.5h19M340 342.5h15M465 342.5h18M339 343.5h16M461 343.5h1M463 343.5h19M338 344.5h15M461 344.5h19M337 345.5h15M461 345.5h17M337 346.5h14M459 346.5h19M336 347.5h14M457 347.5h19M334 348.5h15M456 348.5h19M334 349.5h14M455 349.5h19M333 350.5h15M454 350.5h19M331 351.5h16M452 351.5h19M330 352.5h16M450 352.5h20M329 353.5h16M450 353.5h18M328 354.5h16M448 354.5h20M328 355.5h16M447 355.5h19M327 356.5h15M445 356.5h19M325 357.5h16M444 357.5h19M324 358.5h17M443 358.5h20M324 359.5h15M442 359.5h19M322 360.5h17M441 360.5h18M322 361.5h16M439 361.5h19M321 362.5h16M436 362.5h1M438 362.5h19M320 363.5h16M435 363.5h20M319 364.5h16M434 364.5h21M318 365.5h15M432 365.5h21M317 366.5h15M432 366.5h19M315 367.5h17M431 367.5h20M315 368.5h16M429 368.5h20M314 369.5h16M427 369.5h20M313 370.5h16M426 370.5h20M311 371.5h16M423 371.5h1M425 371.5h20M311 372.5h16M423 372.5h20M310 373.5h16M422 373.5h21M309 374.5h15M421 374.5h21M307 375.5h17M418 375.5h22M306 376.5h17M418 376.5h20M306 377.5h16M416 377.5h20M305 378.5h15M414 378.5h20M303 379.5h17M413 379.5h21M303 380.5h16M411 380.5h21M301 381.5h18M410 381.5h20M300 382.5h17M409 382.5h21M299 383.5h18M407 383.5h21M298 384.5h18M406 384.5h21M297 385.5h17M404 385.5h22M296 386.5h17M402 386.5h21M424 386.5h1M294 387.5h18M401 387.5h21M294 388.5h16M399 388.5h22M292 389.5h18M397 389.5h22M291 390.5h19M397 390.5h21M290 391.5h18M395 391.5h22M289 392.5h18M393 392.5h22M288 393.5h17M392 393.5h22M286 394.5h19M390 394.5h22M285 395.5h1M287 395.5h17M388 395.5h22M285 396.5h17M386 396.5h22M284 397.5h18M384 397.5h24M282 398.5h18M383 398.5h24M281 399.5h18M381 399.5h24M281 400.5h17M380 400.5h22M279 401.5h18M378 401.5h23M278 402.5h18M378 402.5h22M276 403.5h18M376 403.5h22M275 404.5h18M374 404.5h24M274 405.5h19M372 405.5h24M273 406.5h18M371 406.5h22M272 407.5h18M368 407.5h1M370 407.5h22M271 408.5h18M367 408.5h23M269 409.5h19M365 409.5h24M269 410.5h18M364 410.5h23M267 411.5h18M361 411.5h24M267 412.5h18M360 412.5h25M266 413.5h18M358 413.5h24M263 414.5h19M357 414.5h24M262 415.5h20M356 415.5h23M260 416.5h20M354 416.5h24M260 417.5h19M350 417.5h1M352 417.5h23M258 418.5h19M349 418.5h25M257 419.5h18M276 419.5h1M349 419.5h23M256 420.5h19M346 420.5h24M255 421.5h19M343 421.5h26M254 422.5h19M342 422.5h25M251 423.5h21M340 423.5h24M365 423.5h1M251 424.5h19M338 424.5h27M249 425.5h20M337 425.5h25M247 426.5h22M335 426.5h26M247 427.5h19M334 427.5h24M245 428.5h20M330 428.5h1M332 428.5h26M243 429.5h21M329 429.5h27M242 430.5h21M327 430.5h27M240 431.5h21M325 431.5h27M239 432.5h21M261 432.5h1M323 432.5h27M238 433.5h21M321 433.5h27M237 434.5h22M320 434.5h26M236 435.5h21M318 435.5h26M234 436.5h21M256 436.5h1M315 436.5h28M232 437.5h23M314 437.5h26M230 438.5h24M312 438.5h28M230 439.5h22M308 439.5h1M310 439.5h27M229 440.5h21M307 440.5h27M226 441.5h22M305 441.5h28M225 442.5h23M303 442.5h28M223 443.5h23M301 443.5h29M222 444.5h23M298 444.5h30M219 445.5h1M221 445.5h22M297 445.5h29M219 446.5h23M294 446.5h29M217 447.5h24M291 447.5h1M293 447.5h28M215 448.5h25M291 448.5h28M213 449.5h25M286 449.5h1M288 449.5h28M317 449.5h1M211 450.5h26M285 450.5h31M317 450.5h1M211 451.5h24M284 451.5h30M209 452.5h24M280 452.5h30M208 453.5h24M279 453.5h32M205 454.5h1M207 454.5h23M277 454.5h30M205 455.5h23M274 455.5h31M202 456.5h26M271 456.5h32M200 457.5h25M226 457.5h1M270 457.5h31M199 458.5h26M267 458.5h31M300 458.5h1M197 459.5h26M263 459.5h34M196 460.5h26M261 460.5h34M193 461.5h1M195 461.5h25M259 461.5h34M190 462.5h29M254 462.5h1M256 462.5h33M290 462.5h1M189 463.5h29M255 463.5h32M288 463.5h1M189 464.5h26M252 464.5h33M184 465.5h1M186 465.5h27M246 465.5h2M249 465.5h33M283 465.5h1M184 466.5h27M246 466.5h34M183 467.5h28M243 467.5h36M179 468.5h29M240 468.5h36M178 469.5h30M237 469.5h37M176 470.5h29M234 470.5h38M173 471.5h31M232 471.5h37M172 472.5h29M228 472.5h41M168 473.5h1M170 473.5h31M224 473.5h40M167 474.5h31M222 474.5h40M166 475.5h30M218 475.5h42M163 476.5h32M215 476.5h1M217 476.5h40M160 477.5h33M212 477.5h42M158 478.5h32M207 478.5h1M209 478.5h43M155 479.5h33M189 479.5h1M205 479.5h45M154 480.5h34M203 480.5h43M247 480.5h1M150 481.5h36M196 481.5h1M198 481.5h46M149 482.5h34M195 482.5h45M145 483.5h36M189 483.5h49M141 484.5h39M185 484.5h51M139 485.5h40M182 485.5h50M233 485.5h1M136 486.5h41M180 486.5h50M133 487.5h1M135 487.5h39M175 487.5h52M229 487.5h1M131 488.5h92M224 488.5h1M129 489.5h92M124 490.5h95M121 491.5h95M116 492.5h1M118 492.5h94M114 493.5h96M110 494.5h1M112 494.5h92M104 495.5h98M103 496.5h95M100 497.5h95M98 498.5h93M192 498.5h1M97 499.5h91M97 500.5h89M96 501.5h86M96 502.5h81M96 503.5h78M175 503.5h1M96 504.5h74M173 504.5h1M96 505.5h70M96 506.5h67M96 507.5h60M158 507.5h1M96 508.5h57M96 509.5h48M146 509.5h1M96 510.5h46M96 511.5h37M136 511.5h2" stroke="#263ea8"/>
<path d="M450 209.5h1M449 210.5h1M448 211.5h2M448 212.5h1M447 213.5h2M446 214.5h2M445 215.5h2M444 216.5h3M443 217.5h3M443 218.5h3M442 219.5h3M441 220.5h3M441 221.5h3M440 222.5h3M439 223.5h4M438 224.5h4M437 225.5h4M437 226.5h4M436 227.5h4M435 228.5h4M434 229.5h5M434 230.5h4M433 231.5h4M432 232.5h5M432 233.5h4M431 234.5h5M430 235.5h5M429 236.5h5M428 237.5h5M428 238.5h5M427 239.5h5M426 240.5h5M425 241.5h6M424 242.5h6M424 243.5h6M423 244.5h6M422 245.5h6M422 246.5h5M421 247.5h6M420 248.5h6M419 249.5h6M418 250.5h7M418 251.5h6M417 252.5h6M416 253.5h6M415 254.5h7M415 255.5h6M414 256.5h6M413 257.5h6M412 258.5h7M412 259.5h6M411 260.5h6M410 261.5h7M409 262.5h7M408 263.5h8M408 264.5h7M407 265.5h7M406 266.5h7M405 267.5h8M405 268.5h7M404 269.5h7M403 270.5h8M402 271.5h8M401 272.5h8M401 273.5h7M400 274.5h7M399 275.5h8M398 276.5h8M397 277.5h8M397 278.5h8M396 279.5h8M395 280.5h8M395 281.5h7M394 282.5h8M393 283.5h8M392 284.5h8M391 285.5h8M390 286.5h9M390 287.5h7M389 288.5h8M388 289.5h8M387 290.5h9M386 291.5h9M385 292.5h9M385 293.5h8M383 294.5h9M383 295.5h8M382 296.5h9M382 297.5h8M381 298.5h8M380 299.5h8M379 300.5h9M378 301.5h9M377 302.5h9M377 303.5h9M375 304.5h9M375 305.5h9M374 306.5h9M372 307.5h10M372 308.5h9M371 309.5h9M371 310.5h9M369 311.5h10M369 312.5h9M368 313.5h9M367 314.5h9M366 315.5h10M366 316.5h9M364 317.5h10M363 318.5h10M362 319.5h11M362 320.5h10M361 321.5h10M360 322.5h10M359 323.5h10M358 324.5h11M358 325.5h9M357 326.5h10M355 327.5h11M355 328.5h9M354 329.5h10M353 330.5h10M352 331.5h10M351 332.5h10M350 333.5h11M349 334.5h11M348 335.5h11M348 336.5h10M347 337.5h10M346 338.5h10M345 339.5h11M343 340.5h11M343 341.5h10M342 342.5h11M341 343.5h11M340 344.5h11M339 345.5h11M338 346.5h11M337 347.5h12M336 348.5h11M336 349.5h10M335 350.5h10M333 351.5h11M460 351.5h3M333 352.5h10M459 352.5h3M331 353.5h11M457 353.5h4M330 354.5h12M455 354.5h5M330 355.5h11M454 355.5h5M329 356.5h11M452 356.5h5M327 357.5h12M451 357.5h5M326 358.5h13M449 358.5h6M326 359.5h11M447 359.5h7M325 360.5h11M446 360.5h7M324 361.5h11M445 361.5h7M322 362.5h13M443 362.5h7M322 363.5h12M442 363.5h7M321 364.5h11M440 364.5h8M320 365.5h11M439 365.5h8M319 366.5h12M437 366.5h8M317 367.5h12M435 367.5h9M317 368.5h12M434 368.5h9M316 369.5h12M433 369.5h9M315 370.5h12M431 370.5h9M314 371.5h12M429 371.5h10M312 372.5h13M428 372.5h10M312 373.5h12M427 373.5h10M310 374.5h13M425 374.5h11M310 375.5h12M424 375.5h10M308 376.5h13M421 376.5h12M308 377.5h12M420 377.5h12M306 378.5h13M419 378.5h11M305 379.5h13M418 379.5h11M303 380.5h1M305 380.5h12M416 380.5h11M303 381.5h13M414 381.5h12M302 382.5h12M413 382.5h12M301 383.5h13M411 383.5h12M300 384.5h12M409 384.5h13M299 385.5h13M409 385.5h11M298 386.5h13M406 386.5h13M297 387.5h13M406 387.5h11M295 388.5h14M403 388.5h13M294 389.5h13M402 389.5h13M294 390.5h12M400 390.5h14M292 391.5h14M398 391.5h14M291 392.5h14M397 392.5h14M290 393.5h14M396 393.5h14M289 394.5h13M395 394.5h13M288 395.5h14M392 395.5h15M286 396.5h15M391 396.5h14M285 397.5h14M389 397.5h14M284 398.5h14M387 398.5h15M283 399.5h15M386 399.5h14M283 400.5h13M384 400.5h14M281 401.5h14M382 401.5h16M279 402.5h15M380 402.5h16M279 403.5h14M380 403.5h14M277 404.5h15M378 404.5h14M276 405.5h15M375 405.5h16M275 406.5h15M373 406.5h17M274 407.5h15M372 407.5h16M272 408.5h15M371 408.5h16M271 409.5h15M370 409.5h15M270 410.5h15M368 410.5h15M269 411.5h15M366 411.5h16M267 412.5h16M364 412.5h16M267 413.5h14M362 413.5h16M265 414.5h15M360 414.5h17M264 415.5h16M358 415.5h17M263 416.5h15M357 416.5h17M262 417.5h15M354 417.5h18M260 418.5h16M353 418.5h17M259 419.5h15M351 419.5h18M258 420.5h15M350 420.5h17M256 421.5h16M348 421.5h17M255 422.5h17M347 422.5h16M253 423.5h17M344 423.5h18M253 424.5h16M342 424.5h18M250 425.5h18M340 425.5h19M250 426.5h17M339 426.5h18M248 427.5h17M337 427.5h17M247 428.5h17M335 428.5h19M245 429.5h18M332 429.5h20M244 430.5h18M331 430.5h19M242 431.5h19M329 431.5h19M242 432.5h17M328 432.5h18M240 433.5h17M326 433.5h18M239 434.5h17M323 434.5h20M237 435.5h18M321 435.5h19M236 436.5h18M319 436.5h20M235 437.5h18M317 437.5h20M232 438.5h18M315 438.5h20M231 439.5h18M313 439.5h20M230 440.5h18M312 440.5h20M229 441.5h18M309 441.5h21M226 442.5h19M307 442.5h21M225 443.5h20M305 443.5h22M223 444.5h19M302 444.5h21M223 445.5h19M300 445.5h22M220 446.5h20M298 446.5h22M219 447.5h20M296 447.5h22M217 448.5h20M294 448.5h22M216 449.5h19M291 449.5h24M214 450.5h21M290 450.5h22M213 451.5h21M287 451.5h23M211 452.5h21M284 452.5h24M210 453.5h20M281 453.5h1M283 453.5h24M208 454.5h21M280 454.5h24M205 455.5h23M277 455.5h26M204 456.5h22M275 456.5h25M200 457.5h1M202 457.5h22M274 457.5h23M201 458.5h22M270 458.5h26M198 459.5h23M267 459.5h26M197 460.5h23M265 460.5h26M196 461.5h23M263 461.5h26M193 462.5h24M261 462.5h26M192 463.5h23M257 463.5h27M189 464.5h25M254 464.5h1M256 464.5h25M188 465.5h24M251 465.5h29M184 466.5h1M186 466.5h24M249 466.5h28M184 467.5h25M246 467.5h30M182 468.5h25M245 468.5h27M180 469.5h25M240 469.5h30M271 469.5h1M178 470.5h25M238 470.5h31M175 471.5h27M234 471.5h33M173 472.5h28M231 472.5h33M171 473.5h27M228 473.5h34M170 474.5h27M225 474.5h34M168 475.5h27M222 475.5h34M164 476.5h1M166 476.5h26M220 476.5h34M162 477.5h29M214 477.5h1M217 477.5h34M158 478.5h1M160 478.5h29M211 478.5h1M213 478.5h35M158 479.5h29M209 479.5h36M247 479.5h1M156 480.5h29M205 480.5h38M244 480.5h1M154 481.5h30M201 481.5h41M149 482.5h1M151 482.5h30M198 482.5h40M148 483.5h32M195 483.5h41M144 484.5h34M190 484.5h43M143 485.5h34M183 485.5h1M186 485.5h44M139 486.5h1M141 486.5h34M181 486.5h45M137 487.5h34M178 487.5h46M134 488.5h39M174 488.5h46M130 489.5h88M127 490.5h36M164 490.5h50M124 491.5h87M118 492.5h2M122 492.5h85M208 492.5h1M117 493.5h88M113 494.5h88M109 495.5h89M105 496.5h89M195 496.5h1M102 497.5h88M101 498.5h87M99 499.5h84M186 499.5h1M98 500.5h82M181 500.5h2M97 501.5h82M97 502.5h76M97 503.5h72M97 504.5h70M97 505.5h66M97 506.5h60M159 506.5h1M97 507.5h58M97 508.5h50M148 508.5h1M97 509.5h40M138 509.5h4M97 510.5h39M138 510.5h1M97 511.5h30M129 511.5h2" stroke="#1652cd"/>
<path d="M361 326.5h1M360 327.5h1M359 328.5h2M358 329.5h2M356 330.5h3M355 331.5h3M354 332.5h4M353 333.5h4M352 334.5h4M351 335.5h5M350 336.5h5M349 337.5h5M348 338.5h5M347 339.5h5M346 340.5h5M345 341.5h6M344 342.5h6M344 343.5h5M342 344.5h6M341 345.5h7M340 346.5h7M339 347.5h7M338 348.5h7M338 349.5h6M336 350.5h7M335 351.5h7M334 352.5h7M333 353.5h8M332 354.5h8M332 355.5h7M330 356.5h8M330 357.5h7M328 358.5h8M327 359.5h8M326 360.5h9M325 361.5h9M324 362.5h8M323 363.5h8M322 364.5h9M321 365.5h9M320 366.5h9M320 367.5h8M318 368.5h9M317 369.5h9M316 370.5h9M315 371.5h9M314 372.5h10M313 373.5h9M311 374.5h11M310 375.5h11M310 376.5h10M308 377.5h10M307 378.5h11M307 379.5h10M305 380.5h11M304 381.5h11M303 382.5h11M302 383.5h11M301 384.5h11M299 385.5h13M299 386.5h11M297 387.5h12M296 388.5h12M295 389.5h12M294 390.5h11M293 391.5h12M292 392.5h12M291 393.5h12M289 394.5h13M289 395.5h12M287 396.5h13M286 397.5h12M285 398.5h13M284 399.5h12M283 400.5h13M282 401.5h12M280 402.5h13M279 403.5h13M278 404.5h13M277 405.5h13M276 406.5h13M274 407.5h14M274 408.5h12M272 409.5h13M271 410.5h13M270 411.5h13M267 412.5h15M267 413.5h14M266 414.5h14M264 415.5h14M279 415.5h1M263 416.5h14M262 417.5h14M261 418.5h14M259 419.5h14M258 420.5h15M257 421.5h15M255 422.5h16M254 423.5h16M253 424.5h15M252 425.5h16M250 426.5h16M250 427.5h14M247 428.5h16M245 429.5h17M245 430.5h16M243 431.5h17M337 431.5h2M242 432.5h17M334 432.5h4M240 433.5h17M331 433.5h6M239 434.5h17M328 434.5h8M238 435.5h16M327 435.5h7M236 436.5h18M324 436.5h9M235 437.5h17M322 437.5h10M234 438.5h16M319 438.5h11M231 439.5h18M317 439.5h11M230 440.5h17M315 440.5h12M229 441.5h18M313 441.5h11M227 442.5h18M311 442.5h13M225 443.5h19M308 443.5h14M223 444.5h19M306 444.5h14M223 445.5h19M303 445.5h15M220 446.5h1M222 446.5h17M301 446.5h15M219 447.5h20M299 447.5h15M217 448.5h20M297 448.5h15M216 449.5h19M294 449.5h16M215 450.5h19M292 450.5h17M213 451.5h21M290 451.5h17M211 452.5h21M287 452.5h18M210 453.5h20M285 453.5h17M208 454.5h1M210 454.5h19M283 454.5h18M206 455.5h21M280 455.5h19M204 456.5h21M278 456.5h19M203 457.5h21M275 457.5h20M201 458.5h22M273 458.5h20M198 459.5h23M270 459.5h20M197 460.5h22M267 460.5h1M269 460.5h20M196 461.5h22M264 461.5h21M193 462.5h23M261 462.5h23M192 463.5h21M259 463.5h22M190 464.5h23M257 464.5h23M189 465.5h22M252 465.5h25M186 466.5h24M249 466.5h1M251 466.5h25M185 467.5h24M249 467.5h25M182 468.5h25M246 468.5h25M180 469.5h24M243 469.5h26M178 470.5h25M239 470.5h28M175 471.5h26M236 471.5h29M174 472.5h26M233 472.5h28M171 473.5h1M174 473.5h24M228 473.5h1M230 473.5h29M170 474.5h27M225 474.5h32M168 475.5h27M222 475.5h32M164 476.5h1M166 476.5h26M220 476.5h32M162 477.5h29M214 477.5h1M218 477.5h33M158 478.5h1M160 478.5h29M213 478.5h33M247 478.5h1M158 479.5h29M210 479.5h35M156 480.5h28M206 480.5h35M154 481.5h29M203 481.5h37M149 482.5h1M151 482.5h30M198 482.5h1M200 482.5h37M148 483.5h31M195 483.5h39M147 484.5h31M191 484.5h41M143 485.5h32M183 485.5h1M186 485.5h42M229 485.5h1M139 486.5h1M141 486.5h31M181 486.5h4M186 486.5h39M138 487.5h32M178 487.5h44M223 487.5h1M134 488.5h39M174 488.5h46M132 489.5h36M169 489.5h48M127 490.5h36M164 490.5h2M167 490.5h47M124 491.5h87M118 492.5h2M122 492.5h85M117 493.5h88M113 494.5h88M110 495.5h87M106 496.5h2M109 496.5h85M102 497.5h88M101 498.5h86M99 499.5h84M186 499.5h1M98 500.5h82M181 500.5h1M97 501.5h79M177 501.5h2M97 502.5h75M97 503.5h70M168 503.5h1M97 504.5h68M97 505.5h65M97 506.5h60M97 507.5h55M153 507.5h1M97 508.5h49M97 509.5h40M138 509.5h4M97 510.5h39M97 511.5h30M130 511.5h1" stroke="#1064dc"/>
<path d="M310 379.5h2M309 380.5h2M307 381.5h4M306 382.5h4M305 383.5h4M303 384.5h6M302 385.5h6M301 386.5h6M300 387.5h6M299 388.5h6M297 389.5h7M296 390.5h8M295 391.5h8M293 392.5h9M292 393.5h9M291 394.5h9M290 395.5h9M289 396.5h9M287 397.5h10M287 398.5h9M286 399.5h9M284 400.5h9M283 401.5h9M282 402.5h10M281 403.5h10M280 404.5h9M278 405.5h11M277 406.5h10M276 407.5h10M274 408.5h12M273 409.5h11M272 410.5h11M271 411.5h11M269 412.5h12M268 413.5h12M267 414.5h11M265 415.5h12M264 416.5h12M263 417.5h12M262 418.5h12M261 419.5h12M259 420.5h13M258 421.5h12M257 422.5h12M255 423.5h14M253 424.5h15M253 425.5h13M251 426.5h13M250 427.5h13M249 428.5h14M247 429.5h14M245 430.5h14M244 431.5h15M242 432.5h15M241 433.5h15M240 434.5h15M238 435.5h16M237 436.5h16M235 437.5h15M234 438.5h16M233 439.5h15M231 440.5h16M229 441.5h17M228 442.5h16M227 443.5h16M224 444.5h18M223 445.5h16M222 446.5h17M220 447.5h18M219 448.5h17M217 449.5h18M215 450.5h19M213 451.5h19M212 452.5h19M210 453.5h18M229 453.5h1M208 454.5h1M210 454.5h18M207 455.5h18M205 456.5h20M203 457.5h20M202 458.5h21M198 459.5h23M198 460.5h21M197 461.5h21M271 461.5h6M193 462.5h23M266 462.5h10M193 463.5h20M262 463.5h13M190 464.5h22M260 464.5h13M189 465.5h22M257 465.5h15M187 466.5h22M253 466.5h17M185 467.5h23M251 467.5h18M182 468.5h25M247 468.5h20M180 469.5h24M245 469.5h20M178 470.5h24M240 470.5h1M242 470.5h21M176 471.5h25M237 471.5h2M240 471.5h21M174 472.5h26M234 472.5h1M236 472.5h23M174 473.5h24M233 473.5h23M257 473.5h1M171 474.5h24M226 474.5h1M228 474.5h1M230 474.5h25M168 475.5h27M225 475.5h27M166 476.5h26M222 476.5h28M162 477.5h29M218 477.5h29M161 478.5h28M214 478.5h31M158 479.5h29M212 479.5h31M156 480.5h28M207 480.5h1M209 480.5h32M154 481.5h29M204 481.5h34M151 482.5h29M200 482.5h34M148 483.5h31M196 483.5h37M147 484.5h30M192 484.5h37M144 485.5h31M183 485.5h1M187 485.5h40M142 486.5h30M181 486.5h2M186 486.5h37M224 486.5h1M139 487.5h31M180 487.5h42M135 488.5h33M169 488.5h4M176 488.5h44M132 489.5h36M169 489.5h46M127 490.5h36M164 490.5h1M167 490.5h45M126 491.5h84M122 492.5h85M119 493.5h84M116 494.5h85M112 495.5h83M196 495.5h1M106 496.5h2M109 496.5h85M103 497.5h87M102 498.5h84M101 499.5h81M98 500.5h79M98 501.5h78M97 502.5h75M97 503.5h70M168 503.5h1M97 504.5h68M97 505.5h65M97 506.5h56M154 506.5h2M97 507.5h53M151 507.5h1M153 507.5h1M97 508.5h49M97 509.5h40M138 509.5h3M97 510.5h35M133 510.5h1M135 510.5h1M97 511.5h27M125 511.5h1" stroke="#1272d9"/>
<path d="M281 406.5h2M279 407.5h3M278 408.5h3M276 409.5h4M275 410.5h5M273 411.5h6M272 412.5h6M270 413.5h7M269 414.5h7M268 415.5h7M266 416.5h8M265 417.5h8M264 418.5h8M262 419.5h9M261 420.5h9M259 421.5h10M258 422.5h9M256 423.5h10M255 424.5h10M254 425.5h10M253 426.5h10M251 427.5h11M249 428.5h12M248 429.5h11M246 430.5h12M246 431.5h11M244 432.5h13M242 433.5h12M241 434.5h12M239 435.5h13M238 436.5h13M237 437.5h13M235 438.5h13M233 439.5h14M233 440.5h14M231 441.5h14M228 442.5h15M227 443.5h15M226 444.5h15M224 445.5h15M222 446.5h17M221 447.5h15M219 448.5h16M217 449.5h17M216 450.5h17M214 451.5h17M212 452.5h18M212 453.5h16M210 454.5h17M208 455.5h17M205 456.5h19M203 457.5h20M202 458.5h19M198 459.5h1M201 459.5h19M198 460.5h19M218 460.5h1M197 461.5h19M194 462.5h21M193 463.5h20M190 464.5h22M189 465.5h21M187 466.5h22M185 467.5h22M184 468.5h22M181 469.5h23M178 470.5h1M180 470.5h21M177 471.5h23M245 471.5h5M174 472.5h24M240 472.5h10M174 473.5h24M236 473.5h13M171 474.5h24M232 474.5h16M168 475.5h25M228 475.5h18M166 476.5h26M224 476.5h21M163 477.5h27M221 477.5h22M161 478.5h28M216 478.5h1M218 478.5h23M159 479.5h27M213 479.5h26M156 480.5h28M210 480.5h27M154 481.5h29M205 481.5h30M151 482.5h29M200 482.5h32M149 483.5h28M178 483.5h1M197 483.5h33M147 484.5h29M195 484.5h32M144 485.5h31M188 485.5h1M191 485.5h33M225 485.5h1M142 486.5h30M181 486.5h2M186 486.5h37M139 487.5h31M181 487.5h37M219 487.5h1M135 488.5h33M169 488.5h2M176 488.5h40M133 489.5h35M169 489.5h1M172 489.5h43M129 490.5h34M164 490.5h1M168 490.5h44M126 491.5h82M123 492.5h82M119 493.5h84M116 494.5h82M113 495.5h82M111 496.5h82M106 497.5h84M102 498.5h83M102 499.5h80M99 500.5h78M98 501.5h78M97 502.5h74M97 503.5h70M97 504.5h67M97 505.5h62M97 506.5h56M97 507.5h53M151 507.5h1M97 508.5h47M145 508.5h1M97 509.5h40M97 510.5h35M133 510.5h1M98 511.5h26M125 511.5h1" stroke="#1481d6"/>
<path d="M254 428.5h1M251 429.5h4M250 430.5h4M248 431.5h6M247 432.5h6M245 433.5h7M243 434.5h7M241 435.5h9M240 436.5h8M239 437.5h8M237 438.5h9M235 439.5h10M234 440.5h10M232 441.5h10M231 442.5h10M228 443.5h12M227 444.5h12M225 445.5h13M223 446.5h13M221 447.5h14M221 448.5h13M219 449.5h14M216 450.5h16M215 451.5h15M213 452.5h16M212 453.5h15M211 454.5h15M209 455.5h15M207 456.5h16M205 457.5h16M202 458.5h18M202 459.5h17M199 460.5h18M197 461.5h19M196 462.5h19M194 463.5h18M192 464.5h18M211 464.5h1M189 465.5h1M191 465.5h19M187 466.5h21M186 467.5h20M185 468.5h20M181 469.5h22M180 470.5h21M178 471.5h21M176 472.5h22M174 473.5h23M171 474.5h24M169 475.5h23M166 476.5h26M165 477.5h24M162 478.5h25M224 478.5h7M160 479.5h26M216 479.5h15M157 480.5h27M213 480.5h17M154 481.5h1M156 481.5h27M209 481.5h19M152 482.5h28M202 482.5h25M150 483.5h27M178 483.5h1M198 483.5h2M201 483.5h24M147 484.5h29M195 484.5h28M144 485.5h29M174 485.5h1M192 485.5h29M142 486.5h30M186 486.5h1M188 486.5h31M139 487.5h30M183 487.5h33M137 488.5h31M170 488.5h1M178 488.5h1M180 488.5h35M133 489.5h32M166 489.5h1M172 489.5h39M130 490.5h32M168 490.5h41M126 491.5h36M163 491.5h42M206 491.5h1M123 492.5h80M120 493.5h81M117 494.5h1M119 494.5h77M114 495.5h80M112 496.5h78M191 496.5h1M107 497.5h1M109 497.5h78M188 497.5h1M105 498.5h77M183 498.5h1M103 499.5h78M99 500.5h1M101 500.5h75M98 501.5h77M98 502.5h72M98 503.5h66M165 503.5h2M97 504.5h65M97 505.5h61M97 506.5h56M97 507.5h50M149 507.5h1M97 508.5h45M98 509.5h36M135 509.5h1M98 510.5h30M129 510.5h3M98 511.5h1M100 511.5h19M120 511.5h1M122 511.5h2M125 511.5h1" stroke="#0e8fd1"/>
<path d="M231 444.5h3M228 445.5h6M226 446.5h7M224 447.5h8M223 448.5h8M221 449.5h9M218 450.5h10M217 451.5h10M215 452.5h11M213 453.5h12M211 454.5h13M210 455.5h12M208 456.5h13M205 457.5h15M204 458.5h14M203 459.5h14M200 460.5h16M198 461.5h16M197 462.5h16M195 463.5h17M193 464.5h17M191 465.5h18M189 466.5h17M186 467.5h19M185 468.5h19M183 469.5h19M180 470.5h21M178 471.5h21M176 472.5h22M174 473.5h21M172 474.5h22M170 475.5h22M167 476.5h24M166 477.5h22M162 478.5h24M160 479.5h24M157 480.5h25M156 481.5h25M152 482.5h27M211 482.5h1M151 483.5h25M205 483.5h11M147 484.5h29M199 484.5h17M145 485.5h28M195 485.5h20M143 486.5h28M190 486.5h2M193 486.5h21M139 487.5h30M186 487.5h26M137 488.5h30M170 488.5h1M180 488.5h30M134 489.5h31M166 489.5h1M176 489.5h32M131 490.5h31M170 490.5h36M129 491.5h33M163 491.5h1M165 491.5h1M168 491.5h36M126 492.5h34M161 492.5h39M123 493.5h75M120 494.5h75M117 495.5h75M113 496.5h75M111 497.5h74M109 498.5h72M103 499.5h76M101 500.5h73M98 501.5h73M172 501.5h1M98 502.5h70M98 503.5h64M163 503.5h1M98 504.5h64M98 505.5h57M156 505.5h1M98 506.5h53M98 507.5h45M144 507.5h2M98 508.5h39M138 508.5h2M98 509.5h34M133 509.5h1M135 509.5h1M98 510.5h5M104 510.5h1M109 510.5h15M125 510.5h2M100 511.5h1M116 511.5h1" stroke="#099dcc"/>
<path d="M216 454.5h3M213 455.5h5M211 456.5h6M209 457.5h8M206 458.5h9M203 459.5h11M201 460.5h12M199 461.5h13M197 462.5h13M195 463.5h14M194 464.5h14M192 465.5h14M189 466.5h16M188 467.5h16M186 468.5h16M183 469.5h18M182 470.5h17M179 471.5h18M178 472.5h18M175 473.5h19M172 474.5h20M170 475.5h21M168 476.5h21M166 477.5h21M163 478.5h23M161 479.5h22M158 480.5h24M157 481.5h23M153 482.5h24M151 483.5h25M147 484.5h27M146 485.5h26M144 486.5h26M198 486.5h4M139 487.5h1M141 487.5h28M191 487.5h2M194 487.5h9M137 488.5h29M170 488.5h1M186 488.5h17M134 489.5h1M136 489.5h27M183 489.5h19M133 490.5h29M175 490.5h25M130 491.5h31M163 491.5h1M169 491.5h1M171 491.5h27M127 492.5h33M162 492.5h34M124 493.5h34M159 493.5h34M121 494.5h69M191 494.5h1M118 495.5h69M116 496.5h70M114 497.5h68M111 498.5h1M113 498.5h67M104 499.5h71M101 500.5h1M103 500.5h69M99 501.5h71M98 502.5h67M98 503.5h64M98 504.5h61M98 505.5h54M98 506.5h50M149 506.5h1M98 507.5h44M98 508.5h14M113 508.5h22M98 509.5h12M116 509.5h7M124 509.5h3M128 509.5h1M98 510.5h1M100 510.5h2" stroke="#0da7c3"/>
<path d="M202 462.5h3M200 463.5h5M197 464.5h7M195 465.5h8M192 466.5h10M191 467.5h10M187 468.5h13M185 469.5h13M183 470.5h14M181 471.5h15M179 472.5h14M176 473.5h17M174 474.5h17M172 475.5h17M171 476.5h16M167 477.5h18M165 478.5h19M162 479.5h20M160 480.5h21M157 481.5h22M154 482.5h23M152 483.5h23M150 484.5h24M146 485.5h1M148 485.5h23M145 486.5h24M141 487.5h26M139 488.5h26M137 489.5h25M135 490.5h27M130 491.5h31M128 492.5h32M177 492.5h2M125 493.5h32M167 493.5h1M169 493.5h13M122 494.5h33M158 494.5h2M161 494.5h20M120 495.5h32M154 495.5h1M156 495.5h23M119 496.5h59M117 497.5h58M114 498.5h59M104 499.5h1M106 499.5h1M110 499.5h60M103 500.5h63M99 501.5h64M99 502.5h62M98 503.5h58M98 504.5h53M98 505.5h49M98 506.5h43M98 507.5h19M119 507.5h1M121 507.5h10M132 507.5h1M98 508.5h14M99 509.5h10M100 510.5h2" stroke="#1eafb3"/>
<path d="M188 470.5h3M185 471.5h5M182 472.5h8M180 473.5h8M177 474.5h10M173 475.5h13M171 476.5h13M168 477.5h15M166 478.5h16M162 479.5h1M164 479.5h16M160 480.5h19M159 481.5h18M156 482.5h19M153 483.5h21M150 484.5h22M149 485.5h20M146 486.5h21M143 487.5h23M141 488.5h23M139 489.5h23M135 490.5h24M133 491.5h28M131 492.5h29M128 493.5h29M126 494.5h29M123 495.5h29M122 496.5h28M118 497.5h1M121 497.5h26M114 498.5h31M104 499.5h1M112 499.5h31M148 499.5h6M104 500.5h38M146 500.5h7M101 501.5h38M145 501.5h6M99 502.5h37M99 503.5h32M99 504.5h28M99 505.5h25M125 505.5h1M99 506.5h22M99 507.5h18M99 508.5h13M99 509.5h7" stroke="#2eb7a4"/>
<path d="M169 478.5h7M167 479.5h9M164 480.5h10M162 481.5h11M159 482.5h13M156 483.5h14M151 484.5h1M153 484.5h16M150 485.5h17M147 486.5h19M145 487.5h19M143 488.5h19M141 489.5h18M138 490.5h19M137 491.5h19M157 491.5h4M135 492.5h21M157 492.5h1M159 492.5h1M133 493.5h24M131 494.5h24M129 495.5h23M124 496.5h26M118 497.5h1M123 497.5h24M114 498.5h1M117 498.5h28M112 499.5h31M107 500.5h34M102 501.5h33M136 501.5h2M101 502.5h33M100 503.5h30M99 504.5h28M99 505.5h25M99 506.5h22M99 507.5h15M115 507.5h1M100 508.5h11M105 509.5h1" stroke="#52ba92"/>
<path d="M159 484.5h2M154 485.5h7M151 486.5h10M149 487.5h10M147 488.5h11M145 489.5h11M143 490.5h11M142 491.5h11M157 491.5h1M159 491.5h1M141 492.5h11M153 492.5h3M157 492.5h1M159 492.5h1M141 493.5h5M147 493.5h9M137 494.5h1M139 494.5h1M142 494.5h13M135 495.5h17M124 496.5h2M129 496.5h21M118 497.5h1M124 497.5h22M117 498.5h1M119 498.5h26M112 499.5h1M115 499.5h28M108 500.5h33M105 501.5h30M136 501.5h1M103 502.5h31M102 503.5h28M101 504.5h24M126 504.5h1M101 505.5h22M101 506.5h17M120 506.5h1M101 507.5h13M115 507.5h1M104 508.5h1" stroke="#74bd81"/>
<path d="M150 492.5h2M153 492.5h3M159 492.5h1M144 493.5h1M147 493.5h9M139 494.5h1M142 494.5h12M135 495.5h17M130 496.5h18M149 496.5h1M124 497.5h22M117 498.5h1M119 498.5h26M115 499.5h2M118 499.5h23M111 500.5h30M109 501.5h26M136 501.5h1M106 502.5h26M105 503.5h25M104 504.5h21M126 504.5h1M104 505.5h19M104 506.5h14M110 507.5h2" stroke="#95be71"/>
<path d="M150 492.5h2M154 492.5h1M144 493.5h1M147 493.5h9M142 494.5h11M135 495.5h1M137 495.5h14M131 496.5h17M149 496.5h1M124 497.5h22M117 498.5h1M119 498.5h1M121 498.5h24M116 499.5h1M118 499.5h22M113 500.5h28M110 501.5h25M109 502.5h23M108 503.5h20M129 503.5h1M108 504.5h16M126 504.5h1M108 505.5h12M121 505.5h2M110 506.5h1M113 506.5h2M116 506.5h1" stroke="#b3bd65"/>
<path d="M147 493.5h6M142 494.5h11M135 495.5h1M137 495.5h13M131 496.5h3M135 496.5h13M124 497.5h1M127 497.5h18M121 498.5h24M118 499.5h22M116 500.5h22M113 501.5h22M112 502.5h20M111 503.5h17M129 503.5h1M110 504.5h14M111 505.5h9" stroke="#d1bb59"/>
<path d="M148 493.5h1M151 493.5h1M142 494.5h1M145 494.5h7M140 495.5h10M133 496.5h1M135 496.5h12M129 497.5h16M123 498.5h18M142 498.5h1M120 499.5h19M117 500.5h20M115 501.5h20M114 502.5h18M113 503.5h15M113 504.5h11M116 505.5h1" stroke="#e2c04b"/>
<path d="M148 494.5h4M140 495.5h3M144 495.5h2M133 496.5h1M135 496.5h12M129 497.5h16M126 498.5h15M142 498.5h1M120 499.5h19M119 500.5h18M117 501.5h16M115 502.5h15M115 503.5h11M127 503.5h1M115 504.5h7" stroke="#f4c63b"/>
<path d="M149 494.5h1M141 495.5h2M144 495.5h2M136 496.5h1M138 496.5h4M143 496.5h1M131 497.5h11M144 497.5h1M127 498.5h13M142 498.5h1M123 499.5h15M120 500.5h15M118 501.5h15M117 502.5h13M116 503.5h10M121 504.5h1" stroke="#fdd22b"/>
<path d="M139 496.5h2M134 497.5h7M129 498.5h10M124 499.5h14M121 500.5h14M119 501.5h13M118 502.5h10M118 503.5h6" stroke="#fbe61d"/>
<path d="M131 498.5h7M126 499.5h11M123 500.5h12M120 501.5h11M119 502.5h9" stroke="#f9f90f"/></g>
<rect x="62.0" y="42.5" width="724.0" height="470.0" fill="none" stroke="#b2b2b2" stroke-width="1.8"/>
<path d="M62.0,496.8h11M62.0,481.2h11M62.0,465.5h11M62.0,449.8h22M62.0,434.2h11M62.0,418.5h11M62.0,402.8h11M62.0,387.2h22M62.0,371.5h11M62.0,355.8h11M62.0,340.2h11M62.0,324.5h22M62.0,308.8h11M62.0,293.2h11M62.0,277.5h11M62.0,261.8h22M62.0,246.2h11M62.0,230.5h11M62.0,214.8h11M62.0,199.2h22M62.0,183.5h11M62.0,167.8h11M62.0,152.2h11M62.0,136.5h22M62.0,120.8h11M62.0,105.2h11M62.0,89.5h11M62.0,73.8h22M62.0,58.2h11M86.1,512.5v-7.2M110.3,512.5v-7.2M134.4,512.5v-7.2M158.5,512.5v-7.2M182.7,512.5v-14.5M206.8,512.5v-7.2M230.9,512.5v-7.2M255.1,512.5v-7.2M279.2,512.5v-7.2M303.3,512.5v-14.5M327.5,512.5v-7.2M351.6,512.5v-7.2M375.7,512.5v-7.2M399.9,512.5v-7.2M424.0,512.5v-14.5M448.1,512.5v-7.2M472.3,512.5v-7.2M496.4,512.5v-7.2M520.5,512.5v-7.2M544.7,512.5v-14.5M568.8,512.5v-7.2M592.9,512.5v-7.2M617.1,512.5v-7.2M641.2,512.5v-7.2M665.3,512.5v-14.5M689.5,512.5v-7.2M713.6,512.5v-7.2M737.7,512.5v-7.2M761.9,512.5v-7.2" stroke="#ababab" stroke-width="1.5" fill="none"/>
<rect x="154" y="40.3" width="5.1" height="470.7" fill="#0000ff"/>
<text transform="translate(46.84,518.90) scale(1.020,1)" font-size="18.40" font-family="Liberation Sans, sans-serif" fill="#1a1a1a">0</text>
<text transform="translate(47.03,456.23) scale(1.020,1)" font-size="18.40" font-family="Liberation Sans, sans-serif" fill="#1a1a1a">2</text>
<text transform="translate(46.65,393.57) scale(1.020,1)" font-size="18.40" font-family="Liberation Sans, sans-serif" fill="#1a1a1a">4</text>
<text transform="translate(47.03,330.90) scale(1.020,1)" font-size="18.40" font-family="Liberation Sans, sans-serif" fill="#1a1a1a">6</text>
<text transform="translate(47.03,268.23) scale(1.020,1)" font-size="18.40" font-family="Liberation Sans, sans-serif" fill="#1a1a1a">8</text>
<text transform="translate(36.52,205.57) scale(1.020,1)" font-size="18.40" font-family="Liberation Sans, sans-serif" fill="#1a1a1a">10</text>
<text transform="translate(36.71,142.90) scale(1.020,1)" font-size="18.40" font-family="Liberation Sans, sans-serif" fill="#1a1a1a">12</text>
<text transform="translate(36.33,80.23) scale(1.020,1)" font-size="18.40" font-family="Liberation Sans, sans-serif" fill="#1a1a1a">14</text>
<text transform="translate(57.04,531.50) scale(1.020,1)" font-size="18.40" font-family="Liberation Sans, sans-serif" fill="#1a1a1a">0</text>
<text transform="translate(172.18,531.50) scale(1.020,1)" font-size="18.40" font-family="Liberation Sans, sans-serif" fill="#1a1a1a">10</text>
<text transform="translate(293.12,531.50) scale(1.020,1)" font-size="18.40" font-family="Liberation Sans, sans-serif" fill="#1a1a1a">20</text>
<text transform="translate(413.88,531.50) scale(1.020,1)" font-size="18.40" font-family="Liberation Sans, sans-serif" fill="#1a1a1a">30</text>
<text transform="translate(534.74,531.50) scale(1.020,1)" font-size="18.40" font-family="Liberation Sans, sans-serif" fill="#1a1a1a">40</text>
<text transform="translate(655.22,531.50) scale(1.020,1)" font-size="18.40" font-family="Liberation Sans, sans-serif" fill="#1a1a1a">50</text>
<text transform="translate(775.79,531.50) scale(1.020,1)" font-size="18.40" font-family="Liberation Sans, sans-serif" fill="#1a1a1a">60</text>
<text transform="translate(21.68,252.44) rotate(-90) scale(1.0638,1)" font-size="26.28" font-family="Liberation Sans, sans-serif" fill="#111">Y deviation [mm]</text>
<rect x="791" y="489.00" width="41" height="23.90" fill="#263ea8"/>
<rect x="791" y="465.50" width="41" height="23.90" fill="#1652cd"/>
<rect x="791" y="442.00" width="41" height="23.90" fill="#1064dc"/>
<rect x="791" y="418.50" width="41" height="23.90" fill="#1272d9"/>
<rect x="791" y="395.00" width="41" height="23.90" fill="#1481d6"/>
<rect x="791" y="371.50" width="41" height="23.90" fill="#0e8fd1"/>
<rect x="791" y="348.00" width="41" height="23.90" fill="#099dcc"/>
<rect x="791" y="324.50" width="41" height="23.90" fill="#0da7c3"/>
<rect x="791" y="301.00" width="41" height="23.90" fill="#1eafb3"/>
<rect x="791" y="277.50" width="41" height="23.90" fill="#2eb7a4"/>
<rect x="791" y="254.00" width="41" height="23.90" fill="#52ba92"/>
<rect x="791" y="230.50" width="41" height="23.90" fill="#74bd81"/>
<rect x="791" y="207.00" width="41" height="23.90" fill="#95be71"/>
<rect x="791" y="183.50" width="41" height="23.90" fill="#b3bd65"/>
<rect x="791" y="160.00" width="41" height="23.90" fill="#d1bb59"/>
<rect x="791" y="136.50" width="41" height="23.90" fill="#e2c04b"/>
<rect x="791" y="113.00" width="41" height="23.90" fill="#f4c63b"/>
<rect x="791" y="89.50" width="41" height="23.90" fill="#fdd22b"/>
<rect x="791" y="66.00" width="41" height="23.90" fill="#fbe61d"/>
<rect x="791" y="42.50" width="41" height="23.90" fill="#f9f90f"/>
<text transform="translate(835.75,518.90) scale(1.020,1)" font-size="18.40" font-family="Liberation Sans, sans-serif" fill="#1a1a1a">0</text>
<text transform="translate(835.00,466.60) scale(1.020,1)" font-size="18.40" font-family="Liberation Sans, sans-serif" fill="#1a1a1a">100</text>
<text transform="translate(835.56,414.29) scale(1.020,1)" font-size="18.40" font-family="Liberation Sans, sans-serif" fill="#1a1a1a">200</text>
<text transform="translate(835.75,361.99) scale(1.020,1)" font-size="18.40" font-family="Liberation Sans, sans-serif" fill="#1a1a1a">300</text>
<text transform="translate(836.12,309.69) scale(1.020,1)" font-size="18.40" font-family="Liberation Sans, sans-serif" fill="#1a1a1a">400</text>
<text transform="translate(835.75,257.38) scale(1.020,1)" font-size="18.40" font-family="Liberation Sans, sans-serif" fill="#1a1a1a">500</text>
<text transform="translate(835.56,205.08) scale(1.020,1)" font-size="18.40" font-family="Liberation Sans, sans-serif" fill="#1a1a1a">600</text>
<text transform="translate(835.56,152.77) scale(1.020,1)" font-size="18.40" font-family="Liberation Sans, sans-serif" fill="#1a1a1a">700</text>
<text transform="translate(835.75,100.47) scale(1.020,1)" font-size="18.40" font-family="Liberation Sans, sans-serif" fill="#1a1a1a">800</text>
<path d="M832,512.5h-22M832,460.2h-22M832,407.9h-22M832,355.6h-22M832,303.3h-22M832,251.0h-22M832,198.7h-22M832,146.4h-22M832,94.1h-22" stroke="#3a3a3a" stroke-width="1.1" fill="none"/>
<text transform="translate(717.13,22.30) scale(1.0327,1)" font-size="25.07" font-family="Liberation Sans, sans-serif" fill="#111">N</text>
<text transform="translate(736.15,27.34) scale(1.1014,1)" font-size="16.22" font-family="Liberation Sans, sans-serif" fill="#111">ions</text>
<text transform="translate(777.45,21.59) scale(1.0759,1)" font-size="26.70" font-family="Liberation Sans, sans-serif" fill="#111">detected/pixel</text>
<text transform="translate(581.46,568.16) scale(1.0639,1)" font-size="26.38" font-family="Liberation Sans, sans-serif" fill="#111">X deviation [mm]</text>
<text transform="translate(406.99,149.29) scale(0.9811,1)" font-size="40.86" font-weight="bold" font-family="Liberation Sans, sans-serif" fill="#000">He</text>
<text transform="translate(458.82,135.80) scale(1.0217,1)" font-size="25.43" font-weight="bold" font-family="Liberation Sans, sans-serif" fill="#000">2+</text>
<text transform="translate(618.06,148.44) scale(1.0208,1)" font-size="38.40" font-weight="bold" font-family="Liberation Sans, sans-serif" fill="#000">p</text>
<text transform="translate(641.98,135.75) scale(1.0529,1)" font-size="24.31" font-weight="bold" font-family="Liberation Sans, sans-serif" fill="#000">+</text>
<rect x="13.6" y="613.6" width="894.8" height="530" fill="none" stroke="#0000ff" stroke-width="5.2"/>
<text transform="translate(301.76,641.05) scale(1.0398,1)" font-size="22.13" font-family="Liberation Sans, sans-serif" fill="#1a1a1a">ProjectionY of binx=152 [x=7.55..7.60]</text>
<path d="M275.7,667.6V1058.0M409.0,667.6V1058.0M542.3,667.6V1058.0M675.6,667.6V1058.0M808.9,667.6V1058.0M142.4,999.5H849.2M142.4,941.0H849.2M142.4,882.5H849.2M142.4,824.0H849.2M142.4,765.5H849.2M142.4,707.0H787M807,707.0H849.2" stroke="#bcbcbc" stroke-width="1" stroke-dasharray="2,1" fill="none"/>
<path d="M182.4,1058.0V1049.0H195.7V890.5H209.1V808.6H222.4V743.5H235.7V739.4H249.0V741.4H262.4V747.3H275.7V804.6H289.0V796.7H302.4V804.6H315.7V780.3H329.0V742.3H342.4V725.3H355.7V768.0H369.0V787.6H382.3V867.1H395.7V1012.7H409.0V1058.0H422.3V1056.2H435.7V1058.0Z" fill="#7a99d2" stroke="#5a74c8" stroke-width="1"/>
<rect x="142.4" y="667.6" width="706.8000000000001" height="390.4" fill="none" stroke="#b2b2b2" stroke-width="1.3"/>
<path d="M142.4,1046.3h10.5M142.4,1034.6h10.5M142.4,1022.9h10.5M142.4,1011.2h10.5M142.4,999.5h21.3M142.4,987.8h10.5M142.4,976.1h10.5M142.4,964.4h10.5M142.4,952.7h10.5M142.4,941.0h21.3M142.4,929.3h10.5M142.4,917.6h10.5M142.4,905.9h10.5M142.4,894.2h10.5M142.4,882.5h21.3M142.4,870.8h10.5M142.4,859.1h10.5M142.4,847.4h10.5M142.4,835.7h10.5M142.4,824.0h21.3M142.4,812.3h10.5M142.4,800.6h10.5M142.4,788.9h10.5M142.4,777.2h10.5M142.4,765.5h21.3M142.4,753.8h10.5M142.4,742.1h10.5M142.4,730.4h10.5M142.4,718.7h10.5M142.4,707.0h21.3M142.4,695.3h10.5M142.4,683.6h10.5M142.4,671.9h10.5M169.1,1058.0v-5.9M195.7,1058.0v-5.9M222.4,1058.0v-5.9M249.0,1058.0v-5.9M275.7,1058.0v-11.8M302.4,1058.0v-5.9M329.0,1058.0v-5.9M355.7,1058.0v-5.9M382.3,1058.0v-5.9M409.0,1058.0v-11.8M435.7,1058.0v-5.9M462.3,1058.0v-5.9M489.0,1058.0v-5.9M515.6,1058.0v-5.9M542.3,1058.0v-11.8M569.0,1058.0v-5.9M595.6,1058.0v-5.9M622.3,1058.0v-5.9M648.9,1058.0v-5.9M675.6,1058.0v-11.8M702.3,1058.0v-5.9M728.9,1058.0v-5.9M755.6,1058.0v-5.9M782.2,1058.0v-5.9M808.9,1058.0v-11.8M835.6,1058.0v-5.9" stroke="#ababab" stroke-width="1.3" fill="none"/>
<polyline points="142.4,1057.9 143.3,1057.9 144.2,1057.8 145.1,1057.8 145.9,1057.8 146.8,1057.8 147.7,1057.8 148.6,1057.7 149.5,1057.7 150.4,1057.6 151.2,1057.6 152.1,1057.6 153.0,1057.5 153.9,1057.4 154.8,1057.4 155.7,1057.3 156.5,1057.2 157.4,1057.1 158.3,1057.0 159.2,1056.9 160.1,1056.8 161.0,1056.6 161.8,1056.5 162.7,1056.3 163.6,1056.1 164.5,1055.9 165.4,1055.7 166.3,1055.5 167.1,1055.2 168.0,1054.9 168.9,1054.6 169.8,1054.3 170.7,1053.9 171.6,1053.5 172.4,1053.0 173.3,1052.6 174.2,1052.0 175.1,1051.5 176.0,1050.9 176.9,1050.2 177.7,1049.5 178.6,1048.7 179.5,1047.9 180.4,1047.0 181.3,1046.1 182.2,1045.0 183.0,1043.9 183.9,1042.8 184.8,1041.5 185.7,1040.1 186.6,1038.7 187.5,1037.2 188.3,1035.6 189.2,1033.8 190.1,1032.0 191.0,1030.0 191.9,1028.0 192.8,1025.8 193.6,1023.4 194.5,1021.0 195.4,1018.4 196.3,1015.7 197.2,1012.8 198.1,1009.8 198.9,1006.7 199.8,1003.4 200.7,999.9 201.6,996.3 202.5,992.5 203.4,988.6 204.2,984.5 205.1,980.2 206.0,975.8 206.9,971.2 207.8,966.5 208.7,961.5 209.5,956.5 210.4,951.2 211.3,945.8 212.2,940.2 213.1,934.5 214.0,928.7 214.8,922.7 215.7,916.5 216.6,910.2 217.5,903.8 218.4,897.3 219.3,890.7 220.1,884.0 221.0,877.2 221.9,870.3 222.8,863.3 223.7,856.3 224.6,849.2 225.4,842.2 226.3,835.0 227.2,827.9 228.1,820.8 229.0,813.8 229.9,806.7 230.8,799.7 231.6,792.8 232.5,786.0 233.4,779.2 234.3,772.6 235.2,766.2 236.1,759.8 236.9,753.7 237.8,747.7 238.7,741.9 239.6,736.3 240.5,731.0 241.4,725.9 242.2,721.0 243.1,716.4 244.0,712.1 244.9,708.1 245.8,704.4 246.7,700.9 247.5,697.9 248.4,695.1 249.3,692.7 250.2,690.6 251.1,688.8 252.0,687.4 252.8,686.4 253.7,685.7 254.6,685.3 255.5,685.3 256.4,685.7 257.3,686.4 258.1,687.4 259.0,688.8 259.9,690.5 260.8,692.5 261.7,694.8 262.6,697.4 263.4,700.4 264.3,703.5 265.2,707.0 266.1,710.7 267.0,714.6 267.9,718.8 268.7,723.1 269.6,727.6 270.5,732.3 271.4,737.2 272.3,742.1 273.2,747.2 274.0,752.3 274.9,757.6 275.8,762.8 276.7,768.1 277.6,773.4 278.5,778.7 279.3,783.9 280.2,789.1 281.1,794.2 282.0,799.2 282.9,804.1 283.8,808.9 284.6,813.5 285.5,817.9 286.4,822.2 287.3,826.2 288.2,830.1 289.1,833.7 289.9,837.1 290.8,840.2 291.7,843.0 292.6,845.6 293.5,847.9 294.4,849.9 295.2,851.6 296.1,852.9 297.0,854.0 297.9,854.7 298.8,855.2 299.7,855.3 300.5,855.0 301.4,854.5 302.3,853.6 303.2,852.4 304.1,851.0 305.0,849.2 305.8,847.1 306.7,844.7 307.6,842.0 308.5,839.0 309.4,835.8 310.3,832.3 311.1,828.6 312.0,824.7 312.9,820.6 313.8,816.2 314.7,811.7 315.6,807.1 316.4,802.2 317.3,797.3 318.2,792.2 319.1,787.1 320.0,781.9 320.9,776.6 321.8,771.4 322.6,766.1 323.5,760.8 324.4,755.6 325.3,750.4 326.2,745.2 327.1,740.2 327.9,735.3 328.8,730.5 329.7,725.9 330.6,721.4 331.5,717.2 332.4,713.1 333.2,709.3 334.1,705.6 335.0,702.3 335.9,699.2 336.8,696.4 337.7,693.9 338.5,691.7 339.4,689.8 340.3,688.2 341.2,687.0 342.1,686.1 343.0,685.5 343.8,685.3 344.7,685.4 345.6,685.9 346.5,686.7 347.4,687.9 348.3,689.4 349.1,691.3 350.0,693.5 350.9,696.1 351.8,699.0 352.7,702.2 353.6,705.7 354.4,709.6 355.3,713.7 356.2,718.1 357.1,722.8 358.0,727.8 358.9,733.0 359.7,738.4 360.6,744.1 361.5,750.0 362.4,756.0 363.3,762.2 364.2,768.6 365.0,775.2 365.9,781.8 366.8,788.6 367.7,795.4 368.6,802.4 369.5,809.4 370.3,816.5 371.2,823.5 372.1,830.7 373.0,837.8 373.9,844.9 374.8,852.0 375.6,859.0 376.5,866.0 377.4,872.9 378.3,879.8 379.2,886.6 380.1,893.3 380.9,899.8 381.8,906.3 382.7,912.7 383.6,918.9 384.5,925.0 385.4,930.9 386.2,936.7 387.1,942.4 388.0,947.9 388.9,953.2 389.8,958.4 390.7,963.4 391.5,968.3 392.4,973.0 393.3,977.5 394.2,981.9 395.1,986.1 396.0,990.1 396.8,994.0 397.7,997.7 398.6,1001.3 399.5,1004.7 400.4,1007.9 401.3,1011.0 402.1,1014.0 403.0,1016.8 403.9,1019.4 404.8,1022.0 405.7,1024.3 406.6,1026.6 407.5,1028.8 408.3,1030.8 409.2,1032.7 410.1,1034.5 411.0,1036.2 411.9,1037.8 412.8,1039.3 413.6,1040.7 414.5,1042.0 415.4,1043.2 416.3,1044.4 417.2,1045.4 418.1,1046.4 418.9,1047.4 419.8,1048.2 420.7,1049.0 421.6,1049.8 422.5,1050.5 423.4,1051.1 424.2,1051.7 425.1,1052.2 426.0,1052.7 426.9,1053.2 427.8,1053.6 428.7,1054.0 429.5,1054.4 430.4,1054.7 431.3,1055.0 432.2,1055.3 433.1,1055.6 434.0,1055.8 434.8,1056.0 435.7,1056.2 436.6,1056.4 437.5,1056.5 438.4,1056.7 439.3,1056.8 440.1,1056.9 441.0,1057.1 441.9,1057.2 442.8,1057.2 443.7,1057.3 444.6,1057.4 445.4,1057.5 446.3,1057.5 447.2,1057.6 448.1,1057.6 449.0,1057.7 449.9,1057.7 450.7,1057.7 451.6,1057.8 452.5,1057.8 453.4,1057.8 454.3,1057.8 455.2,1057.9 456.0,1057.9 456.9,1057.9 457.8,1057.9 458.7,1057.9 459.6,1057.9 460.5,1057.9 461.3,1057.9 462.2,1057.9 463.1,1058.0 464.0,1058.0 464.9,1058.0 465.8,1058.0 466.6,1058.0 467.5,1058.0 468.4,1058.0 469.3,1058.0 470.2,1058.0 471.1,1058.0 471.9,1058.0 472.8,1058.0 473.7,1058.0 474.6,1058.0 475.5,1058.0 476.4,1058.0 477.2,1058.0 478.1,1058.0 479.0,1058.0 479.9,1058.0 480.8,1058.0 481.7,1058.0 482.5,1058.0 483.4,1058.0 484.3,1058.0 485.2,1058.0 486.1,1058.0 487.0,1058.0 487.8,1058.0 488.7,1058.0 489.6,1058.0 490.5,1058.0 491.4,1058.0 492.3,1058.0 493.1,1058.0 494.0,1058.0 494.9,1058.0 495.8,1058.0 496.7,1058.0 497.6,1058.0 498.5,1058.0 499.3,1058.0 500.2,1058.0 501.1,1058.0 502.0,1058.0 502.9,1058.0 503.8,1058.0 504.6,1058.0 505.5,1058.0 506.4,1058.0 507.3,1058.0 508.2,1058.0 509.1,1058.0 509.9,1058.0 510.8,1058.0 511.7,1058.0 512.6,1058.0 513.5,1058.0 514.4,1058.0 515.2,1058.0 516.1,1058.0 517.0,1058.0 517.9,1058.0 518.8,1058.0 519.7,1058.0 520.5,1058.0 521.4,1058.0 522.3,1058.0 523.2,1058.0 524.1,1058.0 525.0,1058.0 525.8,1058.0 526.7,1058.0 527.6,1058.0 528.5,1058.0 529.4,1058.0 530.3,1058.0 531.1,1058.0 532.0,1058.0 532.9,1058.0 533.8,1058.0 534.7,1058.0 535.6,1058.0 536.4,1058.0 537.3,1058.0 538.2,1058.0 539.1,1058.0 540.0,1058.0 540.9,1058.0 541.7,1058.0 542.6,1058.0 543.5,1058.0 544.4,1058.0 545.3,1058.0 546.2,1058.0 547.0,1058.0 547.9,1058.0 548.8,1058.0 549.7,1058.0 550.6,1058.0 551.5,1058.0 552.3,1058.0 553.2,1058.0 554.1,1058.0 555.0,1058.0 555.9,1058.0 556.8,1058.0 557.6,1058.0 558.5,1058.0 559.4,1058.0 560.3,1058.0 561.2,1058.0 562.1,1058.0 562.9,1058.0 563.8,1058.0 564.7,1058.0 565.6,1058.0 566.5,1058.0 567.4,1058.0 568.2,1058.0 569.1,1058.0 570.0,1058.0 570.9,1058.0 571.8,1058.0 572.7,1058.0 573.5,1058.0 574.4,1058.0 575.3,1058.0 576.2,1058.0 577.1,1058.0 578.0,1058.0 578.8,1058.0 579.7,1058.0 580.6,1058.0 581.5,1058.0 582.4,1058.0 583.3,1058.0 584.1,1058.0 585.0,1058.0 585.9,1058.0 586.8,1058.0 587.7,1058.0 588.6,1058.0 589.5,1058.0 590.3,1058.0 591.2,1058.0 592.1,1058.0 593.0,1058.0 593.9,1058.0 594.8,1058.0 595.6,1058.0 596.5,1058.0 597.4,1058.0 598.3,1058.0 599.2,1058.0 600.1,1058.0 600.9,1058.0 601.8,1058.0 602.7,1058.0 603.6,1058.0 604.5,1058.0 605.4,1058.0 606.2,1058.0 607.1,1058.0 608.0,1058.0 608.9,1058.0 609.8,1058.0 610.7,1058.0 611.5,1058.0 612.4,1058.0 613.3,1058.0 614.2,1058.0 615.1,1058.0 616.0,1058.0 616.8,1058.0 617.7,1058.0 618.6,1058.0 619.5,1058.0 620.4,1058.0 621.3,1058.0 622.1,1058.0 623.0,1058.0 623.9,1058.0 624.8,1058.0 625.7,1058.0 626.6,1058.0 627.4,1058.0 628.3,1058.0 629.2,1058.0 630.1,1058.0 631.0,1058.0 631.9,1058.0 632.7,1058.0 633.6,1058.0 634.5,1058.0 635.4,1058.0 636.3,1058.0 637.2,1058.0 638.0,1058.0 638.9,1058.0 639.8,1058.0 640.7,1058.0 641.6,1058.0 642.5,1058.0 643.3,1058.0 644.2,1058.0 645.1,1058.0 646.0,1058.0 646.9,1058.0 647.8,1058.0 648.6,1058.0 649.5,1058.0 650.4,1058.0 651.3,1058.0 652.2,1058.0 653.1,1058.0 653.9,1058.0 654.8,1058.0 655.7,1058.0 656.6,1058.0 657.5,1058.0 658.4,1058.0 659.2,1058.0 660.1,1058.0 661.0,1058.0 661.9,1058.0 662.8,1058.0 663.7,1058.0 664.5,1058.0 665.4,1058.0 666.3,1058.0 667.2,1058.0 668.1,1058.0 669.0,1058.0 669.8,1058.0 670.7,1058.0 671.6,1058.0 672.5,1058.0 673.4,1058.0 674.3,1058.0 675.2,1058.0 676.0,1058.0 676.9,1058.0 677.8,1058.0 678.7,1058.0 679.6,1058.0 680.5,1058.0 681.3,1058.0 682.2,1058.0 683.1,1058.0 684.0,1058.0 684.9,1058.0 685.8,1058.0 686.6,1058.0 687.5,1058.0 688.4,1058.0 689.3,1058.0 690.2,1058.0 691.1,1058.0 691.9,1058.0 692.8,1058.0 693.7,1058.0 694.6,1058.0 695.5,1058.0 696.4,1058.0 697.2,1058.0 698.1,1058.0 699.0,1058.0 699.9,1058.0 700.8,1058.0 701.7,1058.0 702.5,1058.0 703.4,1058.0 704.3,1058.0 705.2,1058.0 706.1,1058.0 707.0,1058.0 707.8,1058.0 708.7,1058.0 709.6,1058.0 710.5,1058.0 711.4,1058.0 712.3,1058.0 713.1,1058.0 714.0,1058.0 714.9,1058.0 715.8,1058.0 716.7,1058.0 717.6,1058.0 718.4,1058.0 719.3,1058.0 720.2,1058.0 721.1,1058.0 722.0,1058.0 722.9,1058.0 723.7,1058.0 724.6,1058.0 725.5,1058.0 726.4,1058.0 727.3,1058.0 728.2,1058.0 729.0,1058.0 729.9,1058.0 730.8,1058.0 731.7,1058.0 732.6,1058.0 733.5,1058.0 734.3,1058.0 735.2,1058.0 736.1,1058.0 737.0,1058.0 737.9,1058.0 738.8,1058.0 739.6,1058.0 740.5,1058.0 741.4,1058.0 742.3,1058.0 743.2,1058.0 744.1,1058.0 744.9,1058.0 745.8,1058.0 746.7,1058.0 747.6,1058.0 748.5,1058.0 749.4,1058.0 750.2,1058.0 751.1,1058.0 752.0,1058.0 752.9,1058.0 753.8,1058.0 754.7,1058.0 755.5,1058.0 756.4,1058.0 757.3,1058.0 758.2,1058.0 759.1,1058.0 760.0,1058.0 760.8,1058.0 761.7,1058.0 762.6,1058.0 763.5,1058.0 764.4,1058.0 765.3,1058.0 766.2,1058.0 767.0,1058.0 767.9,1058.0 768.8,1058.0 769.7,1058.0 770.6,1058.0 771.5,1058.0 772.3,1058.0 773.2,1058.0 774.1,1058.0 775.0,1058.0 775.9,1058.0 776.8,1058.0 777.6,1058.0 778.5,1058.0 779.4,1058.0 780.3,1058.0 781.2,1058.0 782.1,1058.0 782.9,1058.0 783.8,1058.0 784.7,1058.0 785.6,1058.0 786.5,1058.0 787.4,1058.0 788.2,1058.0 789.1,1058.0 790.0,1058.0 790.9,1058.0 791.8,1058.0 792.7,1058.0 793.5,1058.0 794.4,1058.0 795.3,1058.0 796.2,1058.0 797.1,1058.0 798.0,1058.0 798.8,1058.0 799.7,1058.0 800.6,1058.0 801.5,1058.0 802.4,1058.0 803.3,1058.0 804.1,1058.0 805.0,1058.0 805.9,1058.0 806.8,1058.0 807.7,1058.0 808.6,1058.0 809.4,1058.0 810.3,1058.0 811.2,1058.0 812.1,1058.0 813.0,1058.0 813.9,1058.0 814.7,1058.0 815.6,1058.0 816.5,1058.0 817.4,1058.0 818.3,1058.0 819.2,1058.0 820.0,1058.0 820.9,1058.0 821.8,1058.0 822.7,1058.0 823.6,1058.0 824.5,1058.0 825.3,1058.0 826.2,1058.0 827.1,1058.0 828.0,1058.0 828.9,1058.0 829.8,1058.0 830.6,1058.0 831.5,1058.0 832.4,1058.0 833.3,1058.0 834.2,1058.0 835.1,1058.0 835.9,1058.0 836.8,1058.0 837.7,1058.0 838.6,1058.0 839.5,1058.0 840.4,1058.0 841.2,1058.0 842.1,1058.0 843.0,1058.0 843.9,1058.0 844.8,1058.0 845.7,1058.0 846.5,1058.0 847.4,1058.0 848.3,1058.0 849.2,1058.0" fill="none" stroke="#ff1a1a" stroke-width="2.4" stroke-linejoin="round"/>
<text transform="translate(129.26,1063.90) scale(0.955,1)" font-size="16.80" font-family="Liberation Sans, sans-serif" fill="#1a1a1a">0</text>
<text transform="translate(111.45,1005.40) scale(0.955,1)" font-size="16.80" font-family="Liberation Sans, sans-serif" fill="#1a1a1a">100</text>
<text transform="translate(111.45,946.90) scale(0.955,1)" font-size="16.80" font-family="Liberation Sans, sans-serif" fill="#1a1a1a">200</text>
<text transform="translate(111.45,888.40) scale(0.955,1)" font-size="16.80" font-family="Liberation Sans, sans-serif" fill="#1a1a1a">300</text>
<text transform="translate(111.45,829.90) scale(0.955,1)" font-size="16.80" font-family="Liberation Sans, sans-serif" fill="#1a1a1a">400</text>
<text transform="translate(111.45,771.40) scale(0.955,1)" font-size="16.80" font-family="Liberation Sans, sans-serif" fill="#1a1a1a">500</text>
<text transform="translate(111.45,712.90) scale(0.955,1)" font-size="16.80" font-family="Liberation Sans, sans-serif" fill="#1a1a1a">600</text>
<text transform="translate(138.21,1074.10) scale(0.955,1)" font-size="16.80" font-family="Liberation Sans, sans-serif" fill="#1a1a1a">0</text>
<text transform="translate(264.85,1074.10) scale(0.955,1)" font-size="16.80" font-family="Liberation Sans, sans-serif" fill="#1a1a1a">0.5</text>
<text transform="translate(404.57,1074.10) scale(0.955,1)" font-size="16.80" font-family="Liberation Sans, sans-serif" fill="#1a1a1a">1</text>
<text transform="translate(531.13,1074.10) scale(0.955,1)" font-size="16.80" font-family="Liberation Sans, sans-serif" fill="#1a1a1a">1.5</text>
<text transform="translate(671.41,1074.10) scale(0.955,1)" font-size="16.80" font-family="Liberation Sans, sans-serif" fill="#1a1a1a">2</text>
<text transform="translate(797.97,1074.10) scale(0.955,1)" font-size="16.80" font-family="Liberation Sans, sans-serif" fill="#1a1a1a">2.5</text>
<text transform="translate(51.90,793.46) rotate(-90) scale(1.1319,1)" font-size="24.93" font-family="Liberation Sans, sans-serif" fill="#111">N</text>
<text transform="translate(58.66,774.90) rotate(-90) scale(1.3118,1)" font-size="14.19" font-family="Liberation Sans, sans-serif" fill="#111">ions</text>
<text transform="translate(87.74,855.34) rotate(-90) scale(1.0796,1)" font-size="26.49" font-family="Liberation Sans, sans-serif" fill="#111">detected/pixel</text>
<text transform="translate(645.36,1117.22) scale(1.0884,1)" font-size="25.64" font-family="Liberation Sans, sans-serif" fill="#111">X deviation [mm]</text>
</svg></body></html>
